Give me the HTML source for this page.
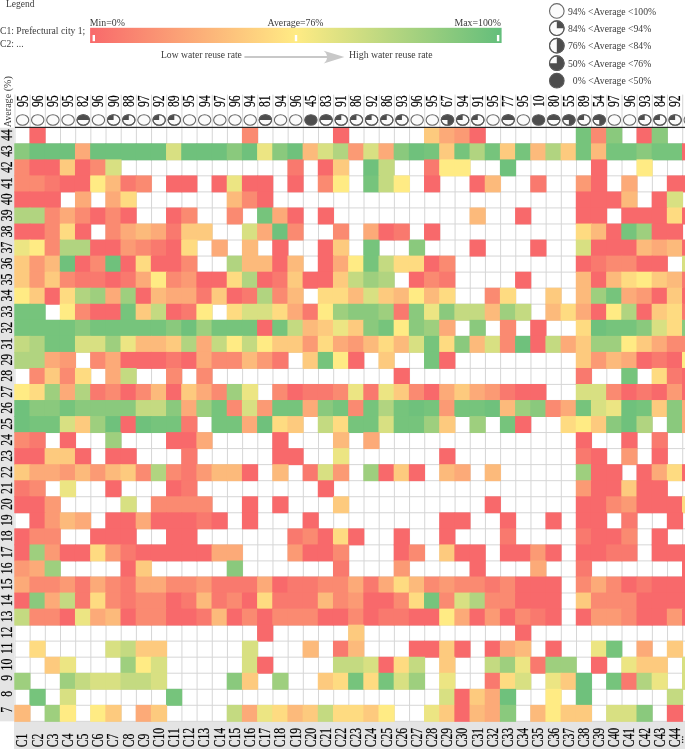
<!DOCTYPE html><html><head><meta charset="utf-8"><style>html,body{margin:0;padding:0;background:#fff;width:685px;height:749px;overflow:hidden}svg{display:block}text{font-family:"Liberation Serif",serif}</style></head><body>
<svg style="will-change:transform" width="685" height="749" viewBox="0 0 685 749">
<defs><linearGradient id="lg" x1="0" x2="1" y1="0" y2="0"><stop offset="0" stop-color="#f8696b"/><stop offset="0.5" stop-color="#ffeb84"/><stop offset="1" stop-color="#63be7b"/></linearGradient></defs>
<g font-size="9.6" fill="#3c3c3c">
<text x="6.0" y="7.0" font-size="9.5">Legend</text>
<text x="0" y="34.4" font-size="9.65">C1: Prefectural city 1;</text>
<text x="0" y="46.7" font-size="9.65">C2: ...</text>
<text x="89.8" y="25.9" font-size="9.85">Min=0%</text>
<text x="267.6" y="25.9" font-size="9.8">Average=76%</text>
<text x="454.4" y="25.9" font-size="9.85">Max=100%</text>
<text x="161.0" y="57.7" font-size="9.62">Low water reuse rate</text>
<text x="349.0" y="57.7" font-size="9.75">High water reuse rate</text>
</g>
<rect x="90.1" y="27.8" width="411.5" height="15.2" fill="url(#lg)"/>
<rect x="92.6" y="35" width="2.4" height="6.2" fill="#fff"/>
<rect x="294.8" y="35" width="2.4" height="6.2" fill="#fff"/>
<rect x="496.9" y="35" width="2.4" height="6.2" fill="#fff"/>
<path d="M244.4,57.0 L330,57.0" stroke="#c8c8c8" stroke-width="1.9"/>
<path d="M344.4,57.1 L323.7,50.7 Q327.2,53.5 327,57.1 Q327.2,60.7 323.7,63.5 Z" fill="#c8c8c8"/>
<g transform="translate(556.8,10.95) rotate(0) "><ellipse cx="0" cy="0" rx="7.3" ry="7.3" fill="#fbfbfb" stroke="#6a6a6a" stroke-width="1.1"/></g>
<text x="567.9" y="14.55" font-size="9.7" fill="#3c3c3c">94% &lt;Average &lt;100%</text>
<g transform="translate(556.8,28.2) rotate(0) "><ellipse cx="0" cy="0" rx="7.3" ry="7.3" fill="#fbfbfb" stroke="#6a6a6a" stroke-width="1.1"/><path d="M0,0 L0,-7.3 A7.3,7.3 0 0 1 7.3,0 Z" fill="#4d4d4d"/><ellipse cx="0" cy="0" rx="7.3" ry="7.3" fill="none" stroke="#5a5a5a" stroke-width="1.1"/></g>
<text x="567.9" y="31.8" font-size="9.7" fill="#3c3c3c">84% &lt;Average &lt;94%</text>
<g transform="translate(556.8,45.7) rotate(0) "><ellipse cx="0" cy="0" rx="7.3" ry="7.3" fill="#fbfbfb" stroke="#6a6a6a" stroke-width="1.1"/><path d="M0,-7.3 A7.3,7.3 0 0 1 0,7.3 Z" fill="#4d4d4d"/><ellipse cx="0" cy="0" rx="7.3" ry="7.3" fill="none" stroke="#5a5a5a" stroke-width="1.1"/></g>
<text x="567.9" y="49.3" font-size="9.7" fill="#3c3c3c">76% &lt;Average &lt;84%</text>
<g transform="translate(556.8,63.2) rotate(0) "><ellipse cx="0" cy="0" rx="7.3" ry="7.3" fill="#fbfbfb" stroke="#6a6a6a" stroke-width="1.1"/><path d="M0,0 L0,-7.3 A7.3,7.3 0 1 1 -7.3,0 Z" fill="#4d4d4d"/><ellipse cx="0" cy="0" rx="7.3" ry="7.3" fill="none" stroke="#5a5a5a" stroke-width="1.1"/></g>
<text x="567.9" y="66.8" font-size="9.7" fill="#3c3c3c">50% &lt;Average &lt;76%</text>
<g transform="translate(556.8,80.7) rotate(0) "><ellipse cx="0" cy="0" rx="7.3" ry="7.3" fill="#4d4d4d" stroke="#5a5a5a" stroke-width="1.1"/></g>
<text x="572.8" y="84.3" font-size="9.7" fill="#3c3c3c">0% &lt;Average &lt;50%</text>
<rect x="14.47" y="94.6" width="1" height="33.1" fill="#d6d6d6"/>
<rect x="29.65" y="94.6" width="1" height="33.1" fill="#d6d6d6"/>
<rect x="44.82" y="94.6" width="1" height="33.1" fill="#d6d6d6"/>
<rect x="60" y="94.6" width="1" height="33.1" fill="#d6d6d6"/>
<rect x="75.17" y="94.6" width="1" height="33.1" fill="#d6d6d6"/>
<rect x="90.35" y="94.6" width="1" height="33.1" fill="#d6d6d6"/>
<rect x="105.53" y="94.6" width="1" height="33.1" fill="#d6d6d6"/>
<rect x="120.7" y="94.6" width="1" height="33.1" fill="#d6d6d6"/>
<rect x="135.88" y="94.6" width="1" height="33.1" fill="#d6d6d6"/>
<rect x="151.05" y="94.6" width="1" height="33.1" fill="#d6d6d6"/>
<rect x="166.23" y="94.6" width="1" height="33.1" fill="#d6d6d6"/>
<rect x="181.41" y="94.6" width="1" height="33.1" fill="#d6d6d6"/>
<rect x="196.58" y="94.6" width="1" height="33.1" fill="#d6d6d6"/>
<rect x="211.76" y="94.6" width="1" height="33.1" fill="#d6d6d6"/>
<rect x="226.93" y="94.6" width="1" height="33.1" fill="#d6d6d6"/>
<rect x="242.11" y="94.6" width="1" height="33.1" fill="#d6d6d6"/>
<rect x="257.29" y="94.6" width="1" height="33.1" fill="#d6d6d6"/>
<rect x="272.46" y="94.6" width="1" height="33.1" fill="#d6d6d6"/>
<rect x="287.64" y="94.6" width="1" height="33.1" fill="#d6d6d6"/>
<rect x="302.81" y="94.6" width="1" height="33.1" fill="#d6d6d6"/>
<rect x="317.99" y="94.6" width="1" height="33.1" fill="#d6d6d6"/>
<rect x="333.17" y="94.6" width="1" height="33.1" fill="#d6d6d6"/>
<rect x="348.34" y="94.6" width="1" height="33.1" fill="#d6d6d6"/>
<rect x="363.52" y="94.6" width="1" height="33.1" fill="#d6d6d6"/>
<rect x="378.69" y="94.6" width="1" height="33.1" fill="#d6d6d6"/>
<rect x="393.87" y="94.6" width="1" height="33.1" fill="#d6d6d6"/>
<rect x="409.05" y="94.6" width="1" height="33.1" fill="#d6d6d6"/>
<rect x="424.22" y="94.6" width="1" height="33.1" fill="#d6d6d6"/>
<rect x="439.4" y="94.6" width="1" height="33.1" fill="#d6d6d6"/>
<rect x="454.57" y="94.6" width="1" height="33.1" fill="#d6d6d6"/>
<rect x="469.75" y="94.6" width="1" height="33.1" fill="#d6d6d6"/>
<rect x="484.93" y="94.6" width="1" height="33.1" fill="#d6d6d6"/>
<rect x="500.1" y="94.6" width="1" height="33.1" fill="#d6d6d6"/>
<rect x="515.28" y="94.6" width="1" height="33.1" fill="#d6d6d6"/>
<rect x="530.45" y="94.6" width="1" height="33.1" fill="#d6d6d6"/>
<rect x="545.63" y="94.6" width="1" height="33.1" fill="#d6d6d6"/>
<rect x="560.81" y="94.6" width="1" height="33.1" fill="#d6d6d6"/>
<rect x="575.98" y="94.6" width="1" height="33.1" fill="#d6d6d6"/>
<rect x="591.16" y="94.6" width="1" height="33.1" fill="#d6d6d6"/>
<rect x="606.33" y="94.6" width="1" height="33.1" fill="#d6d6d6"/>
<rect x="621.51" y="94.6" width="1" height="33.1" fill="#d6d6d6"/>
<rect x="636.69" y="94.6" width="1" height="33.1" fill="#d6d6d6"/>
<rect x="651.86" y="94.6" width="1" height="33.1" fill="#d6d6d6"/>
<rect x="667.04" y="94.6" width="1" height="33.1" fill="#d6d6d6"/>
<rect x="682.21" y="94.6" width="1" height="33.1" fill="#d6d6d6"/>
<rect x="697.39" y="94.6" width="1" height="33.1" fill="#d6d6d6"/>
<text transform="translate(10.8,127.3) rotate(-90)" font-size="10.1" fill="#3c3c3c">Average (%)</text>
<text transform="translate(27.56,101.2) rotate(-90) scale(0.73,1)" font-size="16" text-anchor="middle" fill="#000" stroke="#000" stroke-width="0.2">95</text>
<g transform="translate(22.56,120) rotate(-90) "><ellipse cx="0" cy="0" rx="5.3" ry="6.2" fill="#fbfbfb" stroke="#6a6a6a" stroke-width="1.1"/></g>
<text transform="translate(42.73,101.2) rotate(-90) scale(0.73,1)" font-size="16" text-anchor="middle" fill="#000" stroke="#000" stroke-width="0.2">96</text>
<g transform="translate(37.73,120) rotate(-90) "><ellipse cx="0" cy="0" rx="5.3" ry="6.2" fill="#fbfbfb" stroke="#6a6a6a" stroke-width="1.1"/></g>
<text transform="translate(57.91,101.2) rotate(-90) scale(0.73,1)" font-size="16" text-anchor="middle" fill="#000" stroke="#000" stroke-width="0.2">95</text>
<g transform="translate(52.91,120) rotate(-90) "><ellipse cx="0" cy="0" rx="5.3" ry="6.2" fill="#fbfbfb" stroke="#6a6a6a" stroke-width="1.1"/></g>
<text transform="translate(73.09,101.2) rotate(-90) scale(0.73,1)" font-size="16" text-anchor="middle" fill="#000" stroke="#000" stroke-width="0.2">95</text>
<g transform="translate(68.09,120) rotate(-90) "><ellipse cx="0" cy="0" rx="5.3" ry="6.2" fill="#fbfbfb" stroke="#6a6a6a" stroke-width="1.1"/></g>
<text transform="translate(88.26,101.2) rotate(-90) scale(0.73,1)" font-size="16" text-anchor="middle" fill="#000" stroke="#000" stroke-width="0.2">82</text>
<g transform="translate(83.26,120) rotate(-90) "><ellipse cx="0" cy="0" rx="5.3" ry="6.2" fill="#fbfbfb" stroke="#6a6a6a" stroke-width="1.1"/><path d="M0,-6.2 A5.3,6.2 0 0 1 0,6.2 Z" fill="#4d4d4d"/><ellipse cx="0" cy="0" rx="5.3" ry="6.2" fill="none" stroke="#5a5a5a" stroke-width="1.1"/></g>
<text transform="translate(103.44,101.2) rotate(-90) scale(0.73,1)" font-size="16" text-anchor="middle" fill="#000" stroke="#000" stroke-width="0.2">96</text>
<g transform="translate(98.44,120) rotate(-90) "><ellipse cx="0" cy="0" rx="5.3" ry="6.2" fill="#fbfbfb" stroke="#6a6a6a" stroke-width="1.1"/></g>
<text transform="translate(118.61,101.2) rotate(-90) scale(0.73,1)" font-size="16" text-anchor="middle" fill="#000" stroke="#000" stroke-width="0.2">90</text>
<g transform="translate(113.61,120) rotate(-90) "><ellipse cx="0" cy="0" rx="5.3" ry="6.2" fill="#fbfbfb" stroke="#6a6a6a" stroke-width="1.1"/><path d="M0,0 L0,-6.2 A5.3,6.2 0 0 1 5.3,0 Z" fill="#4d4d4d"/><ellipse cx="0" cy="0" rx="5.3" ry="6.2" fill="none" stroke="#5a5a5a" stroke-width="1.1"/></g>
<text transform="translate(133.79,101.2) rotate(-90) scale(0.73,1)" font-size="16" text-anchor="middle" fill="#000" stroke="#000" stroke-width="0.2">88</text>
<g transform="translate(128.79,120) rotate(-90) "><ellipse cx="0" cy="0" rx="5.3" ry="6.2" fill="#fbfbfb" stroke="#6a6a6a" stroke-width="1.1"/><path d="M0,0 L0,-6.2 A5.3,6.2 0 0 1 5.3,0 Z" fill="#4d4d4d"/><ellipse cx="0" cy="0" rx="5.3" ry="6.2" fill="none" stroke="#5a5a5a" stroke-width="1.1"/></g>
<text transform="translate(148.97,101.2) rotate(-90) scale(0.73,1)" font-size="16" text-anchor="middle" fill="#000" stroke="#000" stroke-width="0.2">97</text>
<g transform="translate(143.97,120) rotate(-90) "><ellipse cx="0" cy="0" rx="5.3" ry="6.2" fill="#fbfbfb" stroke="#6a6a6a" stroke-width="1.1"/></g>
<text transform="translate(164.14,101.2) rotate(-90) scale(0.73,1)" font-size="16" text-anchor="middle" fill="#000" stroke="#000" stroke-width="0.2">92</text>
<g transform="translate(159.14,120) rotate(-90) "><ellipse cx="0" cy="0" rx="5.3" ry="6.2" fill="#fbfbfb" stroke="#6a6a6a" stroke-width="1.1"/><path d="M0,0 L0,-6.2 A5.3,6.2 0 0 1 5.3,0 Z" fill="#4d4d4d"/><ellipse cx="0" cy="0" rx="5.3" ry="6.2" fill="none" stroke="#5a5a5a" stroke-width="1.1"/></g>
<text transform="translate(179.32,101.2) rotate(-90) scale(0.73,1)" font-size="16" text-anchor="middle" fill="#000" stroke="#000" stroke-width="0.2">89</text>
<g transform="translate(174.32,120) rotate(-90) "><ellipse cx="0" cy="0" rx="5.3" ry="6.2" fill="#fbfbfb" stroke="#6a6a6a" stroke-width="1.1"/><path d="M0,0 L0,-6.2 A5.3,6.2 0 0 1 5.3,0 Z" fill="#4d4d4d"/><ellipse cx="0" cy="0" rx="5.3" ry="6.2" fill="none" stroke="#5a5a5a" stroke-width="1.1"/></g>
<text transform="translate(194.49,101.2) rotate(-90) scale(0.73,1)" font-size="16" text-anchor="middle" fill="#000" stroke="#000" stroke-width="0.2">95</text>
<g transform="translate(189.49,120) rotate(-90) "><ellipse cx="0" cy="0" rx="5.3" ry="6.2" fill="#fbfbfb" stroke="#6a6a6a" stroke-width="1.1"/></g>
<text transform="translate(209.67,101.2) rotate(-90) scale(0.73,1)" font-size="16" text-anchor="middle" fill="#000" stroke="#000" stroke-width="0.2">94</text>
<g transform="translate(204.67,120) rotate(-90) "><ellipse cx="0" cy="0" rx="5.3" ry="6.2" fill="#fbfbfb" stroke="#6a6a6a" stroke-width="1.1"/></g>
<text transform="translate(224.85,101.2) rotate(-90) scale(0.73,1)" font-size="16" text-anchor="middle" fill="#000" stroke="#000" stroke-width="0.2">97</text>
<g transform="translate(219.85,120) rotate(-90) "><ellipse cx="0" cy="0" rx="5.3" ry="6.2" fill="#fbfbfb" stroke="#6a6a6a" stroke-width="1.1"/></g>
<text transform="translate(240.02,101.2) rotate(-90) scale(0.73,1)" font-size="16" text-anchor="middle" fill="#000" stroke="#000" stroke-width="0.2">96</text>
<g transform="translate(235.02,120) rotate(-90) "><ellipse cx="0" cy="0" rx="5.3" ry="6.2" fill="#fbfbfb" stroke="#6a6a6a" stroke-width="1.1"/></g>
<text transform="translate(255.2,101.2) rotate(-90) scale(0.73,1)" font-size="16" text-anchor="middle" fill="#000" stroke="#000" stroke-width="0.2">94</text>
<g transform="translate(250.2,120) rotate(-90) "><ellipse cx="0" cy="0" rx="5.3" ry="6.2" fill="#fbfbfb" stroke="#6a6a6a" stroke-width="1.1"/></g>
<text transform="translate(270.37,101.2) rotate(-90) scale(0.73,1)" font-size="16" text-anchor="middle" fill="#000" stroke="#000" stroke-width="0.2">81</text>
<g transform="translate(265.37,120) rotate(-90) "><ellipse cx="0" cy="0" rx="5.3" ry="6.2" fill="#fbfbfb" stroke="#6a6a6a" stroke-width="1.1"/><path d="M0,-6.2 A5.3,6.2 0 0 1 0,6.2 Z" fill="#4d4d4d"/><ellipse cx="0" cy="0" rx="5.3" ry="6.2" fill="none" stroke="#5a5a5a" stroke-width="1.1"/></g>
<text transform="translate(285.55,101.2) rotate(-90) scale(0.73,1)" font-size="16" text-anchor="middle" fill="#000" stroke="#000" stroke-width="0.2">94</text>
<g transform="translate(280.55,120) rotate(-90) "><ellipse cx="0" cy="0" rx="5.3" ry="6.2" fill="#fbfbfb" stroke="#6a6a6a" stroke-width="1.1"/></g>
<text transform="translate(300.73,101.2) rotate(-90) scale(0.73,1)" font-size="16" text-anchor="middle" fill="#000" stroke="#000" stroke-width="0.2">96</text>
<g transform="translate(295.73,120) rotate(-90) "><ellipse cx="0" cy="0" rx="5.3" ry="6.2" fill="#fbfbfb" stroke="#6a6a6a" stroke-width="1.1"/></g>
<text transform="translate(315.9,101.2) rotate(-90) scale(0.73,1)" font-size="16" text-anchor="middle" fill="#000" stroke="#000" stroke-width="0.2">45</text>
<g transform="translate(310.9,120) rotate(-90) "><ellipse cx="0" cy="0" rx="5.3" ry="6.2" fill="#4d4d4d" stroke="#5a5a5a" stroke-width="1.1"/></g>
<text transform="translate(331.08,101.2) rotate(-90) scale(0.73,1)" font-size="16" text-anchor="middle" fill="#000" stroke="#000" stroke-width="0.2">83</text>
<g transform="translate(326.08,120) rotate(-90) "><ellipse cx="0" cy="0" rx="5.3" ry="6.2" fill="#fbfbfb" stroke="#6a6a6a" stroke-width="1.1"/><path d="M0,-6.2 A5.3,6.2 0 0 1 0,6.2 Z" fill="#4d4d4d"/><ellipse cx="0" cy="0" rx="5.3" ry="6.2" fill="none" stroke="#5a5a5a" stroke-width="1.1"/></g>
<text transform="translate(346.25,101.2) rotate(-90) scale(0.73,1)" font-size="16" text-anchor="middle" fill="#000" stroke="#000" stroke-width="0.2">91</text>
<g transform="translate(341.25,120) rotate(-90) "><ellipse cx="0" cy="0" rx="5.3" ry="6.2" fill="#fbfbfb" stroke="#6a6a6a" stroke-width="1.1"/><path d="M0,0 L0,-6.2 A5.3,6.2 0 0 1 5.3,0 Z" fill="#4d4d4d"/><ellipse cx="0" cy="0" rx="5.3" ry="6.2" fill="none" stroke="#5a5a5a" stroke-width="1.1"/></g>
<text transform="translate(361.43,101.2) rotate(-90) scale(0.73,1)" font-size="16" text-anchor="middle" fill="#000" stroke="#000" stroke-width="0.2">86</text>
<g transform="translate(356.43,120) rotate(-90) "><ellipse cx="0" cy="0" rx="5.3" ry="6.2" fill="#fbfbfb" stroke="#6a6a6a" stroke-width="1.1"/><path d="M0,0 L0,-6.2 A5.3,6.2 0 0 1 5.3,0 Z" fill="#4d4d4d"/><ellipse cx="0" cy="0" rx="5.3" ry="6.2" fill="none" stroke="#5a5a5a" stroke-width="1.1"/></g>
<text transform="translate(376.61,101.2) rotate(-90) scale(0.73,1)" font-size="16" text-anchor="middle" fill="#000" stroke="#000" stroke-width="0.2">92</text>
<g transform="translate(371.61,120) rotate(-90) "><ellipse cx="0" cy="0" rx="5.3" ry="6.2" fill="#fbfbfb" stroke="#6a6a6a" stroke-width="1.1"/><path d="M0,0 L0,-6.2 A5.3,6.2 0 0 1 5.3,0 Z" fill="#4d4d4d"/><ellipse cx="0" cy="0" rx="5.3" ry="6.2" fill="none" stroke="#5a5a5a" stroke-width="1.1"/></g>
<text transform="translate(391.78,101.2) rotate(-90) scale(0.73,1)" font-size="16" text-anchor="middle" fill="#000" stroke="#000" stroke-width="0.2">86</text>
<g transform="translate(386.78,120) rotate(-90) "><ellipse cx="0" cy="0" rx="5.3" ry="6.2" fill="#fbfbfb" stroke="#6a6a6a" stroke-width="1.1"/><path d="M0,0 L0,-6.2 A5.3,6.2 0 0 1 5.3,0 Z" fill="#4d4d4d"/><ellipse cx="0" cy="0" rx="5.3" ry="6.2" fill="none" stroke="#5a5a5a" stroke-width="1.1"/></g>
<text transform="translate(406.96,101.2) rotate(-90) scale(0.73,1)" font-size="16" text-anchor="middle" fill="#000" stroke="#000" stroke-width="0.2">93</text>
<g transform="translate(401.96,120) rotate(-90) "><ellipse cx="0" cy="0" rx="5.3" ry="6.2" fill="#fbfbfb" stroke="#6a6a6a" stroke-width="1.1"/><path d="M0,0 L0,-6.2 A5.3,6.2 0 0 1 5.3,0 Z" fill="#4d4d4d"/><ellipse cx="0" cy="0" rx="5.3" ry="6.2" fill="none" stroke="#5a5a5a" stroke-width="1.1"/></g>
<text transform="translate(422.13,101.2) rotate(-90) scale(0.73,1)" font-size="16" text-anchor="middle" fill="#000" stroke="#000" stroke-width="0.2">96</text>
<g transform="translate(417.13,120) rotate(-90) "><ellipse cx="0" cy="0" rx="5.3" ry="6.2" fill="#fbfbfb" stroke="#6a6a6a" stroke-width="1.1"/></g>
<text transform="translate(437.31,101.2) rotate(-90) scale(0.73,1)" font-size="16" text-anchor="middle" fill="#000" stroke="#000" stroke-width="0.2">95</text>
<g transform="translate(432.31,120) rotate(-90) "><ellipse cx="0" cy="0" rx="5.3" ry="6.2" fill="#fbfbfb" stroke="#6a6a6a" stroke-width="1.1"/></g>
<text transform="translate(452.49,101.2) rotate(-90) scale(0.73,1)" font-size="16" text-anchor="middle" fill="#000" stroke="#000" stroke-width="0.2">67</text>
<g transform="translate(447.49,120) rotate(-90) "><ellipse cx="0" cy="0" rx="5.3" ry="6.2" fill="#fbfbfb" stroke="#6a6a6a" stroke-width="1.1"/><path d="M0,0 L0,-6.2 A5.3,6.2 0 1 1 -5.3,0 Z" fill="#4d4d4d"/><ellipse cx="0" cy="0" rx="5.3" ry="6.2" fill="none" stroke="#5a5a5a" stroke-width="1.1"/></g>
<text transform="translate(467.66,101.2) rotate(-90) scale(0.73,1)" font-size="16" text-anchor="middle" fill="#000" stroke="#000" stroke-width="0.2">94</text>
<g transform="translate(462.66,120) rotate(-90) "><ellipse cx="0" cy="0" rx="5.3" ry="6.2" fill="#fbfbfb" stroke="#6a6a6a" stroke-width="1.1"/><path d="M0,0 L0,-6.2 A5.3,6.2 0 0 1 5.3,0 Z" fill="#4d4d4d"/><ellipse cx="0" cy="0" rx="5.3" ry="6.2" fill="none" stroke="#5a5a5a" stroke-width="1.1"/></g>
<text transform="translate(482.84,101.2) rotate(-90) scale(0.73,1)" font-size="16" text-anchor="middle" fill="#000" stroke="#000" stroke-width="0.2">91</text>
<g transform="translate(477.84,120) rotate(-90) "><ellipse cx="0" cy="0" rx="5.3" ry="6.2" fill="#fbfbfb" stroke="#6a6a6a" stroke-width="1.1"/><path d="M0,0 L0,-6.2 A5.3,6.2 0 0 1 5.3,0 Z" fill="#4d4d4d"/><ellipse cx="0" cy="0" rx="5.3" ry="6.2" fill="none" stroke="#5a5a5a" stroke-width="1.1"/></g>
<text transform="translate(498.01,101.2) rotate(-90) scale(0.73,1)" font-size="16" text-anchor="middle" fill="#000" stroke="#000" stroke-width="0.2">95</text>
<g transform="translate(493.01,120) rotate(-90) "><ellipse cx="0" cy="0" rx="5.3" ry="6.2" fill="#fbfbfb" stroke="#6a6a6a" stroke-width="1.1"/></g>
<text transform="translate(513.19,101.2) rotate(-90) scale(0.73,1)" font-size="16" text-anchor="middle" fill="#000" stroke="#000" stroke-width="0.2">77</text>
<g transform="translate(508.19,120) rotate(-90) "><ellipse cx="0" cy="0" rx="5.3" ry="6.2" fill="#fbfbfb" stroke="#6a6a6a" stroke-width="1.1"/><path d="M0,-6.2 A5.3,6.2 0 0 1 0,6.2 Z" fill="#4d4d4d"/><ellipse cx="0" cy="0" rx="5.3" ry="6.2" fill="none" stroke="#5a5a5a" stroke-width="1.1"/></g>
<text transform="translate(528.37,101.2) rotate(-90) scale(0.73,1)" font-size="16" text-anchor="middle" fill="#000" stroke="#000" stroke-width="0.2">95</text>
<g transform="translate(523.37,120) rotate(-90) "><ellipse cx="0" cy="0" rx="5.3" ry="6.2" fill="#fbfbfb" stroke="#6a6a6a" stroke-width="1.1"/></g>
<text transform="translate(543.54,101.2) rotate(-90) scale(0.73,1)" font-size="16" text-anchor="middle" fill="#000" stroke="#000" stroke-width="0.2">10</text>
<g transform="translate(538.54,120) rotate(-90) "><ellipse cx="0" cy="0" rx="5.3" ry="6.2" fill="#4d4d4d" stroke="#5a5a5a" stroke-width="1.1"/></g>
<text transform="translate(558.72,101.2) rotate(-90) scale(0.73,1)" font-size="16" text-anchor="middle" fill="#000" stroke="#000" stroke-width="0.2">80</text>
<g transform="translate(553.72,120) rotate(-90) "><ellipse cx="0" cy="0" rx="5.3" ry="6.2" fill="#fbfbfb" stroke="#6a6a6a" stroke-width="1.1"/><path d="M0,-6.2 A5.3,6.2 0 0 1 0,6.2 Z" fill="#4d4d4d"/><ellipse cx="0" cy="0" rx="5.3" ry="6.2" fill="none" stroke="#5a5a5a" stroke-width="1.1"/></g>
<text transform="translate(573.89,101.2) rotate(-90) scale(0.73,1)" font-size="16" text-anchor="middle" fill="#000" stroke="#000" stroke-width="0.2">55</text>
<g transform="translate(568.89,120) rotate(-90) "><ellipse cx="0" cy="0" rx="5.3" ry="6.2" fill="#fbfbfb" stroke="#6a6a6a" stroke-width="1.1"/><path d="M0,0 L0,-6.2 A5.3,6.2 0 1 1 -5.3,0 Z" fill="#4d4d4d"/><ellipse cx="0" cy="0" rx="5.3" ry="6.2" fill="none" stroke="#5a5a5a" stroke-width="1.1"/></g>
<text transform="translate(589.07,101.2) rotate(-90) scale(0.73,1)" font-size="16" text-anchor="middle" fill="#000" stroke="#000" stroke-width="0.2">89</text>
<g transform="translate(584.07,120) rotate(-90) "><ellipse cx="0" cy="0" rx="5.3" ry="6.2" fill="#fbfbfb" stroke="#6a6a6a" stroke-width="1.1"/><path d="M0,0 L0,-6.2 A5.3,6.2 0 0 1 5.3,0 Z" fill="#4d4d4d"/><ellipse cx="0" cy="0" rx="5.3" ry="6.2" fill="none" stroke="#5a5a5a" stroke-width="1.1"/></g>
<text transform="translate(604.25,101.2) rotate(-90) scale(0.73,1)" font-size="16" text-anchor="middle" fill="#000" stroke="#000" stroke-width="0.2">54</text>
<g transform="translate(599.25,120) rotate(-90) "><ellipse cx="0" cy="0" rx="5.3" ry="6.2" fill="#fbfbfb" stroke="#6a6a6a" stroke-width="1.1"/><path d="M0,0 L0,-6.2 A5.3,6.2 0 1 1 -5.3,0 Z" fill="#4d4d4d"/><ellipse cx="0" cy="0" rx="5.3" ry="6.2" fill="none" stroke="#5a5a5a" stroke-width="1.1"/></g>
<text transform="translate(619.42,101.2) rotate(-90) scale(0.73,1)" font-size="16" text-anchor="middle" fill="#000" stroke="#000" stroke-width="0.2">97</text>
<g transform="translate(614.42,120) rotate(-90) "><ellipse cx="0" cy="0" rx="5.3" ry="6.2" fill="#fbfbfb" stroke="#6a6a6a" stroke-width="1.1"/></g>
<text transform="translate(634.6,101.2) rotate(-90) scale(0.73,1)" font-size="16" text-anchor="middle" fill="#000" stroke="#000" stroke-width="0.2">96</text>
<g transform="translate(629.6,120) rotate(-90) "><ellipse cx="0" cy="0" rx="5.3" ry="6.2" fill="#fbfbfb" stroke="#6a6a6a" stroke-width="1.1"/></g>
<text transform="translate(649.77,101.2) rotate(-90) scale(0.73,1)" font-size="16" text-anchor="middle" fill="#000" stroke="#000" stroke-width="0.2">93</text>
<g transform="translate(644.77,120) rotate(-90) "><ellipse cx="0" cy="0" rx="5.3" ry="6.2" fill="#fbfbfb" stroke="#6a6a6a" stroke-width="1.1"/><path d="M0,0 L0,-6.2 A5.3,6.2 0 0 1 5.3,0 Z" fill="#4d4d4d"/><ellipse cx="0" cy="0" rx="5.3" ry="6.2" fill="none" stroke="#5a5a5a" stroke-width="1.1"/></g>
<text transform="translate(664.95,101.2) rotate(-90) scale(0.73,1)" font-size="16" text-anchor="middle" fill="#000" stroke="#000" stroke-width="0.2">84</text>
<g transform="translate(659.95,120) rotate(-90) "><ellipse cx="0" cy="0" rx="5.3" ry="6.2" fill="#fbfbfb" stroke="#6a6a6a" stroke-width="1.1"/><path d="M0,0 L0,-6.2 A5.3,6.2 0 0 1 5.3,0 Z" fill="#4d4d4d"/><ellipse cx="0" cy="0" rx="5.3" ry="6.2" fill="none" stroke="#5a5a5a" stroke-width="1.1"/></g>
<text transform="translate(680.13,101.2) rotate(-90) scale(0.73,1)" font-size="16" text-anchor="middle" fill="#000" stroke="#000" stroke-width="0.2">92</text>
<g transform="translate(675.13,120) rotate(-90) "><ellipse cx="0" cy="0" rx="5.3" ry="6.2" fill="#fbfbfb" stroke="#6a6a6a" stroke-width="1.1"/><path d="M0,0 L0,-6.2 A5.3,6.2 0 0 1 5.3,0 Z" fill="#4d4d4d"/><ellipse cx="0" cy="0" rx="5.3" ry="6.2" fill="none" stroke="#5a5a5a" stroke-width="1.1"/></g>
<g transform="translate(690.3,120) rotate(-90) "><ellipse cx="0" cy="0" rx="5.3" ry="6.2" fill="#fbfbfb" stroke="#6a6a6a" stroke-width="1.1"/></g>
<rect x="0" y="127.7" width="14" height="593.63" fill="#e4e4e4"/>
<rect x="14" y="721.33" width="671" height="27.67" fill="#e4e4e4"/>
<rect x="14.47" y="127.7" width="1" height="593.63" fill="#d6d6d6"/>
<rect x="29.65" y="127.7" width="1" height="593.63" fill="#d6d6d6"/>
<rect x="44.82" y="127.7" width="1" height="593.63" fill="#d6d6d6"/>
<rect x="60" y="127.7" width="1" height="593.63" fill="#d6d6d6"/>
<rect x="75.17" y="127.7" width="1" height="593.63" fill="#d6d6d6"/>
<rect x="90.35" y="127.7" width="1" height="593.63" fill="#d6d6d6"/>
<rect x="105.53" y="127.7" width="1" height="593.63" fill="#d6d6d6"/>
<rect x="120.7" y="127.7" width="1" height="593.63" fill="#d6d6d6"/>
<rect x="135.88" y="127.7" width="1" height="593.63" fill="#d6d6d6"/>
<rect x="151.05" y="127.7" width="1" height="593.63" fill="#d6d6d6"/>
<rect x="166.23" y="127.7" width="1" height="593.63" fill="#d6d6d6"/>
<rect x="181.41" y="127.7" width="1" height="593.63" fill="#d6d6d6"/>
<rect x="196.58" y="127.7" width="1" height="593.63" fill="#d6d6d6"/>
<rect x="211.76" y="127.7" width="1" height="593.63" fill="#d6d6d6"/>
<rect x="226.93" y="127.7" width="1" height="593.63" fill="#d6d6d6"/>
<rect x="242.11" y="127.7" width="1" height="593.63" fill="#d6d6d6"/>
<rect x="257.29" y="127.7" width="1" height="593.63" fill="#d6d6d6"/>
<rect x="272.46" y="127.7" width="1" height="593.63" fill="#d6d6d6"/>
<rect x="287.64" y="127.7" width="1" height="593.63" fill="#d6d6d6"/>
<rect x="302.81" y="127.7" width="1" height="593.63" fill="#d6d6d6"/>
<rect x="317.99" y="127.7" width="1" height="593.63" fill="#d6d6d6"/>
<rect x="333.17" y="127.7" width="1" height="593.63" fill="#d6d6d6"/>
<rect x="348.34" y="127.7" width="1" height="593.63" fill="#d6d6d6"/>
<rect x="363.52" y="127.7" width="1" height="593.63" fill="#d6d6d6"/>
<rect x="378.69" y="127.7" width="1" height="593.63" fill="#d6d6d6"/>
<rect x="393.87" y="127.7" width="1" height="593.63" fill="#d6d6d6"/>
<rect x="409.05" y="127.7" width="1" height="593.63" fill="#d6d6d6"/>
<rect x="424.22" y="127.7" width="1" height="593.63" fill="#d6d6d6"/>
<rect x="439.4" y="127.7" width="1" height="593.63" fill="#d6d6d6"/>
<rect x="454.57" y="127.7" width="1" height="593.63" fill="#d6d6d6"/>
<rect x="469.75" y="127.7" width="1" height="593.63" fill="#d6d6d6"/>
<rect x="484.93" y="127.7" width="1" height="593.63" fill="#d6d6d6"/>
<rect x="500.1" y="127.7" width="1" height="593.63" fill="#d6d6d6"/>
<rect x="515.28" y="127.7" width="1" height="593.63" fill="#d6d6d6"/>
<rect x="530.45" y="127.7" width="1" height="593.63" fill="#d6d6d6"/>
<rect x="545.63" y="127.7" width="1" height="593.63" fill="#d6d6d6"/>
<rect x="560.81" y="127.7" width="1" height="593.63" fill="#d6d6d6"/>
<rect x="575.98" y="127.7" width="1" height="593.63" fill="#d6d6d6"/>
<rect x="591.16" y="127.7" width="1" height="593.63" fill="#d6d6d6"/>
<rect x="606.33" y="127.7" width="1" height="593.63" fill="#d6d6d6"/>
<rect x="621.51" y="127.7" width="1" height="593.63" fill="#d6d6d6"/>
<rect x="636.69" y="127.7" width="1" height="593.63" fill="#d6d6d6"/>
<rect x="651.86" y="127.7" width="1" height="593.63" fill="#d6d6d6"/>
<rect x="667.04" y="127.7" width="1" height="593.63" fill="#d6d6d6"/>
<rect x="682.21" y="127.7" width="1" height="593.63" fill="#d6d6d6"/>
<rect x="697.39" y="127.7" width="1" height="593.63" fill="#d6d6d6"/>
<rect x="14.97" y="127.2" width="670.03" height="1" fill="#d6d6d6"/>
<rect x="14.97" y="143.24" width="670.03" height="1" fill="#d6d6d6"/>
<rect x="14.97" y="159.29" width="670.03" height="1" fill="#d6d6d6"/>
<rect x="14.97" y="175.33" width="670.03" height="1" fill="#d6d6d6"/>
<rect x="14.97" y="191.38" width="670.03" height="1" fill="#d6d6d6"/>
<rect x="14.97" y="207.42" width="670.03" height="1" fill="#d6d6d6"/>
<rect x="14.97" y="223.46" width="670.03" height="1" fill="#d6d6d6"/>
<rect x="14.97" y="239.51" width="670.03" height="1" fill="#d6d6d6"/>
<rect x="14.97" y="255.55" width="670.03" height="1" fill="#d6d6d6"/>
<rect x="14.97" y="271.6" width="670.03" height="1" fill="#d6d6d6"/>
<rect x="14.97" y="287.64" width="670.03" height="1" fill="#d6d6d6"/>
<rect x="14.97" y="303.68" width="670.03" height="1" fill="#d6d6d6"/>
<rect x="14.97" y="319.73" width="670.03" height="1" fill="#d6d6d6"/>
<rect x="14.97" y="335.77" width="670.03" height="1" fill="#d6d6d6"/>
<rect x="14.97" y="351.82" width="670.03" height="1" fill="#d6d6d6"/>
<rect x="14.97" y="367.86" width="670.03" height="1" fill="#d6d6d6"/>
<rect x="14.97" y="383.9" width="670.03" height="1" fill="#d6d6d6"/>
<rect x="14.97" y="399.95" width="670.03" height="1" fill="#d6d6d6"/>
<rect x="14.97" y="415.99" width="670.03" height="1" fill="#d6d6d6"/>
<rect x="14.97" y="432.04" width="670.03" height="1" fill="#d6d6d6"/>
<rect x="14.97" y="448.08" width="670.03" height="1" fill="#d6d6d6"/>
<rect x="14.97" y="464.12" width="670.03" height="1" fill="#d6d6d6"/>
<rect x="14.97" y="480.17" width="670.03" height="1" fill="#d6d6d6"/>
<rect x="14.97" y="496.21" width="670.03" height="1" fill="#d6d6d6"/>
<rect x="14.97" y="512.26" width="670.03" height="1" fill="#d6d6d6"/>
<rect x="14.97" y="528.3" width="670.03" height="1" fill="#d6d6d6"/>
<rect x="14.97" y="544.34" width="670.03" height="1" fill="#d6d6d6"/>
<rect x="14.97" y="560.39" width="670.03" height="1" fill="#d6d6d6"/>
<rect x="14.97" y="576.43" width="670.03" height="1" fill="#d6d6d6"/>
<rect x="14.97" y="592.48" width="670.03" height="1" fill="#d6d6d6"/>
<rect x="14.97" y="608.52" width="670.03" height="1" fill="#d6d6d6"/>
<rect x="14.97" y="624.56" width="670.03" height="1" fill="#d6d6d6"/>
<rect x="14.97" y="640.61" width="670.03" height="1" fill="#d6d6d6"/>
<rect x="14.97" y="656.65" width="670.03" height="1" fill="#d6d6d6"/>
<rect x="14.97" y="672.7" width="670.03" height="1" fill="#d6d6d6"/>
<rect x="14.97" y="688.74" width="670.03" height="1" fill="#d6d6d6"/>
<rect x="14.97" y="704.78" width="670.03" height="1" fill="#d6d6d6"/>
<rect x="14.97" y="720.83" width="670.03" height="1" fill="#d6d6d6"/>
<rect x="29.45" y="127.3" width="16.18" height="16.94" fill="#f8696b"/>
<rect x="241.91" y="127.3" width="16.18" height="16.94" fill="#fa8a71"/>
<rect x="332.97" y="127.3" width="16.18" height="16.94" fill="#f8696b"/>
<rect x="424.02" y="127.3" width="16.18" height="16.94" fill="#fdca7e"/>
<rect x="439.2" y="127.3" width="16.18" height="16.94" fill="#fcaa78"/>
<rect x="454.37" y="127.3" width="16.18" height="16.94" fill="#fb9a74"/>
<rect x="469.55" y="127.3" width="16.18" height="16.94" fill="#f8696b"/>
<rect x="575.78" y="127.3" width="16.18" height="16.94" fill="#76c47c"/>
<rect x="590.96" y="127.3" width="16.18" height="16.94" fill="#fa8a71"/>
<rect x="606.13" y="127.3" width="16.18" height="16.94" fill="#8ac97d"/>
<rect x="636.49" y="127.3" width="16.18" height="16.94" fill="#f8696b"/>
<rect x="651.66" y="127.3" width="16.18" height="16.94" fill="#8ac97d"/>
<rect x="14.27" y="143.34" width="16.18" height="16.94" fill="#8ac97d"/>
<rect x="29.45" y="143.34" width="16.18" height="16.94" fill="#6fc17c"/>
<rect x="44.62" y="143.34" width="16.18" height="16.94" fill="#6fc17c"/>
<rect x="59.8" y="143.34" width="16.18" height="16.94" fill="#6fc17c"/>
<rect x="74.97" y="143.34" width="16.18" height="16.94" fill="#fcaa78"/>
<rect x="90.15" y="143.34" width="16.18" height="16.94" fill="#6fc17c"/>
<rect x="105.33" y="143.34" width="16.18" height="16.94" fill="#6fc17c"/>
<rect x="120.5" y="143.34" width="16.18" height="16.94" fill="#6fc17c"/>
<rect x="135.68" y="143.34" width="16.18" height="16.94" fill="#6fc17c"/>
<rect x="150.85" y="143.34" width="16.18" height="16.94" fill="#6fc17c"/>
<rect x="166.03" y="143.34" width="16.18" height="16.94" fill="#d8e082"/>
<rect x="181.21" y="143.34" width="16.18" height="16.94" fill="#6fc17c"/>
<rect x="196.38" y="143.34" width="16.18" height="16.94" fill="#6fc17c"/>
<rect x="211.56" y="143.34" width="16.18" height="16.94" fill="#6fc17c"/>
<rect x="226.73" y="143.34" width="16.18" height="16.94" fill="#8ac97d"/>
<rect x="241.91" y="143.34" width="16.18" height="16.94" fill="#6fc17c"/>
<rect x="257.09" y="143.34" width="16.18" height="16.94" fill="#ece583"/>
<rect x="272.26" y="143.34" width="16.18" height="16.94" fill="#8ac97d"/>
<rect x="287.44" y="143.34" width="16.18" height="16.94" fill="#6fc17c"/>
<rect x="302.61" y="143.34" width="16.18" height="16.94" fill="#fcba7b"/>
<rect x="317.79" y="143.34" width="16.18" height="16.94" fill="#d8e082"/>
<rect x="332.97" y="143.34" width="16.18" height="16.94" fill="#b1d480"/>
<rect x="348.14" y="143.34" width="16.18" height="16.94" fill="#fb9a74"/>
<rect x="363.32" y="143.34" width="16.18" height="16.94" fill="#d8e082"/>
<rect x="378.49" y="143.34" width="16.18" height="16.94" fill="#fcaa78"/>
<rect x="393.67" y="143.34" width="16.18" height="16.94" fill="#8ac97d"/>
<rect x="408.85" y="143.34" width="16.18" height="16.94" fill="#6fc17c"/>
<rect x="424.02" y="143.34" width="16.18" height="16.94" fill="#76c47c"/>
<rect x="439.2" y="143.34" width="16.18" height="16.94" fill="#fdca7e"/>
<rect x="454.37" y="143.34" width="16.18" height="16.94" fill="#76c47c"/>
<rect x="469.55" y="143.34" width="16.18" height="16.94" fill="#b1d480"/>
<rect x="484.73" y="143.34" width="16.18" height="16.94" fill="#76c47c"/>
<rect x="499.9" y="143.34" width="16.18" height="16.94" fill="#fdca7e"/>
<rect x="515.08" y="143.34" width="16.18" height="16.94" fill="#76c47c"/>
<rect x="530.25" y="143.34" width="16.18" height="16.94" fill="#fcba7b"/>
<rect x="545.43" y="143.34" width="16.18" height="16.94" fill="#b1d480"/>
<rect x="560.61" y="143.34" width="16.18" height="16.94" fill="#fdca7e"/>
<rect x="575.78" y="143.34" width="16.18" height="16.94" fill="#76c47c"/>
<rect x="590.96" y="143.34" width="16.18" height="16.94" fill="#fcba7b"/>
<rect x="606.13" y="143.34" width="16.18" height="16.94" fill="#76c47c"/>
<rect x="621.31" y="143.34" width="16.18" height="16.94" fill="#76c47c"/>
<rect x="636.49" y="143.34" width="16.18" height="16.94" fill="#8ac97d"/>
<rect x="651.66" y="143.34" width="16.18" height="16.94" fill="#76c47c"/>
<rect x="666.84" y="143.34" width="16.18" height="16.94" fill="#76c47c"/>
<rect x="682.01" y="143.34" width="16.18" height="16.94" fill="#f8696b"/>
<rect x="14.27" y="159.39" width="16.18" height="16.94" fill="#fa8a71"/>
<rect x="29.45" y="159.39" width="16.18" height="16.94" fill="#f8696b"/>
<rect x="44.62" y="159.39" width="16.18" height="16.94" fill="#f8696b"/>
<rect x="59.8" y="159.39" width="16.18" height="16.94" fill="#fdca7e"/>
<rect x="74.97" y="159.39" width="16.18" height="16.94" fill="#f8696b"/>
<rect x="90.15" y="159.39" width="16.18" height="16.94" fill="#fa8a71"/>
<rect x="105.33" y="159.39" width="16.18" height="16.94" fill="#d8e082"/>
<rect x="287.44" y="159.39" width="16.18" height="16.94" fill="#f9796e"/>
<rect x="317.79" y="159.39" width="16.18" height="16.94" fill="#f8696b"/>
<rect x="332.97" y="159.39" width="16.18" height="16.94" fill="#fdca7e"/>
<rect x="363.32" y="159.39" width="16.18" height="16.94" fill="#6fc17c"/>
<rect x="378.49" y="159.39" width="16.18" height="16.94" fill="#c4da81"/>
<rect x="424.02" y="159.39" width="16.18" height="16.94" fill="#f9796e"/>
<rect x="439.2" y="159.39" width="16.18" height="16.94" fill="#ffeb84"/>
<rect x="454.37" y="159.39" width="16.18" height="16.94" fill="#ffeb84"/>
<rect x="499.9" y="159.39" width="16.18" height="16.94" fill="#6fc17c"/>
<rect x="590.96" y="159.39" width="16.18" height="16.94" fill="#f8696b"/>
<rect x="636.49" y="159.39" width="16.18" height="16.94" fill="#ffeb84"/>
<rect x="14.27" y="175.43" width="16.18" height="16.94" fill="#fa8a71"/>
<rect x="29.45" y="175.43" width="16.18" height="16.94" fill="#fa8a71"/>
<rect x="44.62" y="175.43" width="16.18" height="16.94" fill="#f9796e"/>
<rect x="59.8" y="175.43" width="16.18" height="16.94" fill="#f8696b"/>
<rect x="74.97" y="175.43" width="16.18" height="16.94" fill="#f8696b"/>
<rect x="90.15" y="175.43" width="16.18" height="16.94" fill="#ffeb84"/>
<rect x="105.33" y="175.43" width="16.18" height="16.94" fill="#fcba7b"/>
<rect x="120.5" y="175.43" width="16.18" height="16.94" fill="#f9796e"/>
<rect x="135.68" y="175.43" width="16.18" height="16.94" fill="#fa8a71"/>
<rect x="166.03" y="175.43" width="16.18" height="16.94" fill="#f8696b"/>
<rect x="181.21" y="175.43" width="16.18" height="16.94" fill="#f8696b"/>
<rect x="211.56" y="175.43" width="16.18" height="16.94" fill="#f8696b"/>
<rect x="226.73" y="175.43" width="16.18" height="16.94" fill="#ece583"/>
<rect x="241.91" y="175.43" width="16.18" height="16.94" fill="#f8696b"/>
<rect x="257.09" y="175.43" width="16.18" height="16.94" fill="#f8696b"/>
<rect x="287.44" y="175.43" width="16.18" height="16.94" fill="#f8696b"/>
<rect x="317.79" y="175.43" width="16.18" height="16.94" fill="#fa8a71"/>
<rect x="332.97" y="175.43" width="16.18" height="16.94" fill="#ffeb84"/>
<rect x="363.32" y="175.43" width="16.18" height="16.94" fill="#76c47c"/>
<rect x="378.49" y="175.43" width="16.18" height="16.94" fill="#c4da81"/>
<rect x="393.67" y="175.43" width="16.18" height="16.94" fill="#ffeb84"/>
<rect x="424.02" y="175.43" width="16.18" height="16.94" fill="#f8696b"/>
<rect x="469.55" y="175.43" width="16.18" height="16.94" fill="#f8696b"/>
<rect x="484.73" y="175.43" width="16.18" height="16.94" fill="#fcba7b"/>
<rect x="530.25" y="175.43" width="16.18" height="16.94" fill="#f9796e"/>
<rect x="575.78" y="175.43" width="16.18" height="16.94" fill="#fb9a74"/>
<rect x="590.96" y="175.43" width="16.18" height="16.94" fill="#f8696b"/>
<rect x="621.31" y="175.43" width="16.18" height="16.94" fill="#fcaa78"/>
<rect x="666.84" y="175.43" width="16.18" height="16.94" fill="#f8696b"/>
<rect x="682.01" y="175.43" width="16.18" height="16.94" fill="#f8696b"/>
<rect x="14.27" y="191.48" width="16.18" height="16.94" fill="#f8696b"/>
<rect x="29.45" y="191.48" width="16.18" height="16.94" fill="#f8696b"/>
<rect x="44.62" y="191.48" width="16.18" height="16.94" fill="#f8696b"/>
<rect x="74.97" y="191.48" width="16.18" height="16.94" fill="#fcaa78"/>
<rect x="105.33" y="191.48" width="16.18" height="16.94" fill="#fcaa78"/>
<rect x="120.5" y="191.48" width="16.18" height="16.94" fill="#fedb81"/>
<rect x="226.73" y="191.48" width="16.18" height="16.94" fill="#fcba7b"/>
<rect x="241.91" y="191.48" width="16.18" height="16.94" fill="#fa8a71"/>
<rect x="257.09" y="191.48" width="16.18" height="16.94" fill="#f8696b"/>
<rect x="575.78" y="191.48" width="16.18" height="16.94" fill="#f8696b"/>
<rect x="590.96" y="191.48" width="16.18" height="16.94" fill="#f8696b"/>
<rect x="606.13" y="191.48" width="16.18" height="16.94" fill="#f8696b"/>
<rect x="621.31" y="191.48" width="16.18" height="16.94" fill="#fcba7b"/>
<rect x="651.66" y="191.48" width="16.18" height="16.94" fill="#f8696b"/>
<rect x="666.84" y="191.48" width="16.18" height="16.94" fill="#d8e082"/>
<rect x="14.27" y="207.52" width="16.18" height="16.94" fill="#b1d480"/>
<rect x="29.45" y="207.52" width="16.18" height="16.94" fill="#b1d480"/>
<rect x="44.62" y="207.52" width="16.18" height="16.94" fill="#fa8a71"/>
<rect x="59.8" y="207.52" width="16.18" height="16.94" fill="#fcaa78"/>
<rect x="74.97" y="207.52" width="16.18" height="16.94" fill="#fa8a71"/>
<rect x="90.15" y="207.52" width="16.18" height="16.94" fill="#f8696b"/>
<rect x="105.33" y="207.52" width="16.18" height="16.94" fill="#fa8a71"/>
<rect x="120.5" y="207.52" width="16.18" height="16.94" fill="#f8696b"/>
<rect x="166.03" y="207.52" width="16.18" height="16.94" fill="#f8696b"/>
<rect x="181.21" y="207.52" width="16.18" height="16.94" fill="#fa8a71"/>
<rect x="226.73" y="207.52" width="16.18" height="16.94" fill="#fa8a71"/>
<rect x="257.09" y="207.52" width="16.18" height="16.94" fill="#76c47c"/>
<rect x="272.26" y="207.52" width="16.18" height="16.94" fill="#fcaa78"/>
<rect x="287.44" y="207.52" width="16.18" height="16.94" fill="#f8696b"/>
<rect x="317.79" y="207.52" width="16.18" height="16.94" fill="#f8696b"/>
<rect x="469.55" y="207.52" width="16.18" height="16.94" fill="#fcba7b"/>
<rect x="515.08" y="207.52" width="16.18" height="16.94" fill="#f8696b"/>
<rect x="575.78" y="207.52" width="16.18" height="16.94" fill="#f8696b"/>
<rect x="590.96" y="207.52" width="16.18" height="16.94" fill="#f8696b"/>
<rect x="621.31" y="207.52" width="16.18" height="16.94" fill="#f8696b"/>
<rect x="636.49" y="207.52" width="16.18" height="16.94" fill="#f8696b"/>
<rect x="651.66" y="207.52" width="16.18" height="16.94" fill="#f8696b"/>
<rect x="666.84" y="207.52" width="16.18" height="16.94" fill="#fedb81"/>
<rect x="682.01" y="207.52" width="16.18" height="16.94" fill="#f8696b"/>
<rect x="14.27" y="223.56" width="16.18" height="16.94" fill="#f8696b"/>
<rect x="29.45" y="223.56" width="16.18" height="16.94" fill="#f8696b"/>
<rect x="44.62" y="223.56" width="16.18" height="16.94" fill="#fa8a71"/>
<rect x="59.8" y="223.56" width="16.18" height="16.94" fill="#fedb81"/>
<rect x="74.97" y="223.56" width="16.18" height="16.94" fill="#f8696b"/>
<rect x="105.33" y="223.56" width="16.18" height="16.94" fill="#fa8a71"/>
<rect x="120.5" y="223.56" width="16.18" height="16.94" fill="#fcaa78"/>
<rect x="135.68" y="223.56" width="16.18" height="16.94" fill="#fcba7b"/>
<rect x="150.85" y="223.56" width="16.18" height="16.94" fill="#fcaa78"/>
<rect x="166.03" y="223.56" width="16.18" height="16.94" fill="#f9796e"/>
<rect x="181.21" y="223.56" width="16.18" height="16.94" fill="#fdca7e"/>
<rect x="196.38" y="223.56" width="16.18" height="16.94" fill="#fdca7e"/>
<rect x="241.91" y="223.56" width="16.18" height="16.94" fill="#d8e082"/>
<rect x="257.09" y="223.56" width="16.18" height="16.94" fill="#fcaa78"/>
<rect x="272.26" y="223.56" width="16.18" height="16.94" fill="#6fc17c"/>
<rect x="287.44" y="223.56" width="16.18" height="16.94" fill="#fa8a71"/>
<rect x="332.97" y="223.56" width="16.18" height="16.94" fill="#fa8a71"/>
<rect x="363.32" y="223.56" width="16.18" height="16.94" fill="#fcaa78"/>
<rect x="378.49" y="223.56" width="16.18" height="16.94" fill="#f8696b"/>
<rect x="393.67" y="223.56" width="16.18" height="16.94" fill="#f9796e"/>
<rect x="424.02" y="223.56" width="16.18" height="16.94" fill="#f8696b"/>
<rect x="575.78" y="223.56" width="16.18" height="16.94" fill="#fedb81"/>
<rect x="590.96" y="223.56" width="16.18" height="16.94" fill="#fcba7b"/>
<rect x="606.13" y="223.56" width="16.18" height="16.94" fill="#f8696b"/>
<rect x="621.31" y="223.56" width="16.18" height="16.94" fill="#76c47c"/>
<rect x="636.49" y="223.56" width="16.18" height="16.94" fill="#9ecf7e"/>
<rect x="651.66" y="223.56" width="16.18" height="16.94" fill="#f8696b"/>
<rect x="666.84" y="223.56" width="16.18" height="16.94" fill="#f8696b"/>
<rect x="14.27" y="239.61" width="16.18" height="16.94" fill="#ece583"/>
<rect x="29.45" y="239.61" width="16.18" height="16.94" fill="#ffeb84"/>
<rect x="44.62" y="239.61" width="16.18" height="16.94" fill="#fa8a71"/>
<rect x="59.8" y="239.61" width="16.18" height="16.94" fill="#b1d480"/>
<rect x="74.97" y="239.61" width="16.18" height="16.94" fill="#b1d480"/>
<rect x="90.15" y="239.61" width="16.18" height="16.94" fill="#f8696b"/>
<rect x="105.33" y="239.61" width="16.18" height="16.94" fill="#f8696b"/>
<rect x="120.5" y="239.61" width="16.18" height="16.94" fill="#fb9a74"/>
<rect x="135.68" y="239.61" width="16.18" height="16.94" fill="#fa8a71"/>
<rect x="150.85" y="239.61" width="16.18" height="16.94" fill="#f9796e"/>
<rect x="166.03" y="239.61" width="16.18" height="16.94" fill="#f8696b"/>
<rect x="181.21" y="239.61" width="16.18" height="16.94" fill="#fedb81"/>
<rect x="211.56" y="239.61" width="16.18" height="16.94" fill="#fcaa78"/>
<rect x="241.91" y="239.61" width="16.18" height="16.94" fill="#fcba7b"/>
<rect x="272.26" y="239.61" width="16.18" height="16.94" fill="#f8696b"/>
<rect x="317.79" y="239.61" width="16.18" height="16.94" fill="#f8696b"/>
<rect x="332.97" y="239.61" width="16.18" height="16.94" fill="#fdca7e"/>
<rect x="363.32" y="239.61" width="16.18" height="16.94" fill="#76c47c"/>
<rect x="408.85" y="239.61" width="16.18" height="16.94" fill="#8ac97d"/>
<rect x="469.55" y="239.61" width="16.18" height="16.94" fill="#f8696b"/>
<rect x="530.25" y="239.61" width="16.18" height="16.94" fill="#f8696b"/>
<rect x="575.78" y="239.61" width="16.18" height="16.94" fill="#d8e082"/>
<rect x="590.96" y="239.61" width="16.18" height="16.94" fill="#f8696b"/>
<rect x="606.13" y="239.61" width="16.18" height="16.94" fill="#f8696b"/>
<rect x="621.31" y="239.61" width="16.18" height="16.94" fill="#f8696b"/>
<rect x="636.49" y="239.61" width="16.18" height="16.94" fill="#fcba7b"/>
<rect x="651.66" y="239.61" width="16.18" height="16.94" fill="#fcaa78"/>
<rect x="666.84" y="239.61" width="16.18" height="16.94" fill="#fcba7b"/>
<rect x="682.01" y="239.61" width="16.18" height="16.94" fill="#f8696b"/>
<rect x="14.27" y="255.65" width="16.18" height="16.94" fill="#fdca7e"/>
<rect x="29.45" y="255.65" width="16.18" height="16.94" fill="#fb9a74"/>
<rect x="44.62" y="255.65" width="16.18" height="16.94" fill="#fcba7b"/>
<rect x="59.8" y="255.65" width="16.18" height="16.94" fill="#6fc17c"/>
<rect x="74.97" y="255.65" width="16.18" height="16.94" fill="#f8696b"/>
<rect x="90.15" y="255.65" width="16.18" height="16.94" fill="#fa8a71"/>
<rect x="105.33" y="255.65" width="16.18" height="16.94" fill="#6fc17c"/>
<rect x="120.5" y="255.65" width="16.18" height="16.94" fill="#f8696b"/>
<rect x="135.68" y="255.65" width="16.18" height="16.94" fill="#fedb81"/>
<rect x="150.85" y="255.65" width="16.18" height="16.94" fill="#f8696b"/>
<rect x="166.03" y="255.65" width="16.18" height="16.94" fill="#f8696b"/>
<rect x="181.21" y="255.65" width="16.18" height="16.94" fill="#fa8a71"/>
<rect x="226.73" y="255.65" width="16.18" height="16.94" fill="#b1d480"/>
<rect x="241.91" y="255.65" width="16.18" height="16.94" fill="#fcba7b"/>
<rect x="257.09" y="255.65" width="16.18" height="16.94" fill="#fcba7b"/>
<rect x="272.26" y="255.65" width="16.18" height="16.94" fill="#f8696b"/>
<rect x="287.44" y="255.65" width="16.18" height="16.94" fill="#fcba7b"/>
<rect x="317.79" y="255.65" width="16.18" height="16.94" fill="#f8696b"/>
<rect x="332.97" y="255.65" width="16.18" height="16.94" fill="#fcaa78"/>
<rect x="348.14" y="255.65" width="16.18" height="16.94" fill="#ffeb84"/>
<rect x="363.32" y="255.65" width="16.18" height="16.94" fill="#76c47c"/>
<rect x="378.49" y="255.65" width="16.18" height="16.94" fill="#c4da81"/>
<rect x="393.67" y="255.65" width="16.18" height="16.94" fill="#fedb81"/>
<rect x="408.85" y="255.65" width="16.18" height="16.94" fill="#fedb81"/>
<rect x="424.02" y="255.65" width="16.18" height="16.94" fill="#f8696b"/>
<rect x="439.2" y="255.65" width="16.18" height="16.94" fill="#fa8a71"/>
<rect x="575.78" y="255.65" width="16.18" height="16.94" fill="#f8696b"/>
<rect x="590.96" y="255.65" width="16.18" height="16.94" fill="#f9796e"/>
<rect x="606.13" y="255.65" width="16.18" height="16.94" fill="#fa8a71"/>
<rect x="621.31" y="255.65" width="16.18" height="16.94" fill="#fa8a71"/>
<rect x="636.49" y="255.65" width="16.18" height="16.94" fill="#f8696b"/>
<rect x="651.66" y="255.65" width="16.18" height="16.94" fill="#f8696b"/>
<rect x="682.01" y="255.65" width="16.18" height="16.94" fill="#d8e082"/>
<rect x="14.27" y="271.7" width="16.18" height="16.94" fill="#fdca7e"/>
<rect x="29.45" y="271.7" width="16.18" height="16.94" fill="#fb9a74"/>
<rect x="44.62" y="271.7" width="16.18" height="16.94" fill="#fdca7e"/>
<rect x="59.8" y="271.7" width="16.18" height="16.94" fill="#fa8a71"/>
<rect x="74.97" y="271.7" width="16.18" height="16.94" fill="#f9796e"/>
<rect x="90.15" y="271.7" width="16.18" height="16.94" fill="#f9796e"/>
<rect x="105.33" y="271.7" width="16.18" height="16.94" fill="#f8696b"/>
<rect x="120.5" y="271.7" width="16.18" height="16.94" fill="#f9796e"/>
<rect x="135.68" y="271.7" width="16.18" height="16.94" fill="#fcaa78"/>
<rect x="150.85" y="271.7" width="16.18" height="16.94" fill="#ffeb84"/>
<rect x="166.03" y="271.7" width="16.18" height="16.94" fill="#fa8a71"/>
<rect x="181.21" y="271.7" width="16.18" height="16.94" fill="#fb9a74"/>
<rect x="196.38" y="271.7" width="16.18" height="16.94" fill="#f8696b"/>
<rect x="211.56" y="271.7" width="16.18" height="16.94" fill="#f8696b"/>
<rect x="226.73" y="271.7" width="16.18" height="16.94" fill="#fedb81"/>
<rect x="241.91" y="271.7" width="16.18" height="16.94" fill="#b1d480"/>
<rect x="257.09" y="271.7" width="16.18" height="16.94" fill="#f8696b"/>
<rect x="272.26" y="271.7" width="16.18" height="16.94" fill="#f9796e"/>
<rect x="287.44" y="271.7" width="16.18" height="16.94" fill="#fdca7e"/>
<rect x="302.61" y="271.7" width="16.18" height="16.94" fill="#f8696b"/>
<rect x="317.79" y="271.7" width="16.18" height="16.94" fill="#f8696b"/>
<rect x="332.97" y="271.7" width="16.18" height="16.94" fill="#fdca7e"/>
<rect x="348.14" y="271.7" width="16.18" height="16.94" fill="#c4da81"/>
<rect x="363.32" y="271.7" width="16.18" height="16.94" fill="#9ecf7e"/>
<rect x="378.49" y="271.7" width="16.18" height="16.94" fill="#b1d480"/>
<rect x="408.85" y="271.7" width="16.18" height="16.94" fill="#f8696b"/>
<rect x="424.02" y="271.7" width="16.18" height="16.94" fill="#fa8a71"/>
<rect x="439.2" y="271.7" width="16.18" height="16.94" fill="#f9796e"/>
<rect x="515.08" y="271.7" width="16.18" height="16.94" fill="#f8696b"/>
<rect x="575.78" y="271.7" width="16.18" height="16.94" fill="#fcba7b"/>
<rect x="590.96" y="271.7" width="16.18" height="16.94" fill="#f8696b"/>
<rect x="606.13" y="271.7" width="16.18" height="16.94" fill="#fcba7b"/>
<rect x="621.31" y="271.7" width="16.18" height="16.94" fill="#fedb81"/>
<rect x="636.49" y="271.7" width="16.18" height="16.94" fill="#ffeb84"/>
<rect x="651.66" y="271.7" width="16.18" height="16.94" fill="#fdca7e"/>
<rect x="666.84" y="271.7" width="16.18" height="16.94" fill="#fcba7b"/>
<rect x="682.01" y="271.7" width="16.18" height="16.94" fill="#f9796e"/>
<rect x="14.27" y="287.74" width="16.18" height="16.94" fill="#ffeb84"/>
<rect x="29.45" y="287.74" width="16.18" height="16.94" fill="#fdca7e"/>
<rect x="44.62" y="287.74" width="16.18" height="16.94" fill="#f8696b"/>
<rect x="59.8" y="287.74" width="16.18" height="16.94" fill="#fedb81"/>
<rect x="74.97" y="287.74" width="16.18" height="16.94" fill="#b1d480"/>
<rect x="90.15" y="287.74" width="16.18" height="16.94" fill="#9ecf7e"/>
<rect x="105.33" y="287.74" width="16.18" height="16.94" fill="#fcaa78"/>
<rect x="120.5" y="287.74" width="16.18" height="16.94" fill="#9ecf7e"/>
<rect x="135.68" y="287.74" width="16.18" height="16.94" fill="#f8696b"/>
<rect x="150.85" y="287.74" width="16.18" height="16.94" fill="#fcba7b"/>
<rect x="166.03" y="287.74" width="16.18" height="16.94" fill="#fcaa78"/>
<rect x="181.21" y="287.74" width="16.18" height="16.94" fill="#fcaa78"/>
<rect x="196.38" y="287.74" width="16.18" height="16.94" fill="#f9796e"/>
<rect x="211.56" y="287.74" width="16.18" height="16.94" fill="#fdca7e"/>
<rect x="226.73" y="287.74" width="16.18" height="16.94" fill="#f8696b"/>
<rect x="241.91" y="287.74" width="16.18" height="16.94" fill="#f9796e"/>
<rect x="257.09" y="287.74" width="16.18" height="16.94" fill="#b1d480"/>
<rect x="272.26" y="287.74" width="16.18" height="16.94" fill="#fa8a71"/>
<rect x="287.44" y="287.74" width="16.18" height="16.94" fill="#fcba7b"/>
<rect x="317.79" y="287.74" width="16.18" height="16.94" fill="#fedb81"/>
<rect x="332.97" y="287.74" width="16.18" height="16.94" fill="#fedb81"/>
<rect x="348.14" y="287.74" width="16.18" height="16.94" fill="#fcba7b"/>
<rect x="363.32" y="287.74" width="16.18" height="16.94" fill="#d8e082"/>
<rect x="378.49" y="287.74" width="16.18" height="16.94" fill="#fdca7e"/>
<rect x="393.67" y="287.74" width="16.18" height="16.94" fill="#fcba7b"/>
<rect x="408.85" y="287.74" width="16.18" height="16.94" fill="#ffeb84"/>
<rect x="424.02" y="287.74" width="16.18" height="16.94" fill="#fcba7b"/>
<rect x="439.2" y="287.74" width="16.18" height="16.94" fill="#fedb81"/>
<rect x="484.73" y="287.74" width="16.18" height="16.94" fill="#fa8a71"/>
<rect x="499.9" y="287.74" width="16.18" height="16.94" fill="#fedb81"/>
<rect x="545.43" y="287.74" width="16.18" height="16.94" fill="#fdca7e"/>
<rect x="575.78" y="287.74" width="16.18" height="16.94" fill="#fcba7b"/>
<rect x="590.96" y="287.74" width="16.18" height="16.94" fill="#9ecf7e"/>
<rect x="606.13" y="287.74" width="16.18" height="16.94" fill="#76c47c"/>
<rect x="621.31" y="287.74" width="16.18" height="16.94" fill="#fcaa78"/>
<rect x="636.49" y="287.74" width="16.18" height="16.94" fill="#fb9a74"/>
<rect x="651.66" y="287.74" width="16.18" height="16.94" fill="#f8696b"/>
<rect x="666.84" y="287.74" width="16.18" height="16.94" fill="#fdca7e"/>
<rect x="682.01" y="287.74" width="16.18" height="16.94" fill="#f8696b"/>
<rect x="14.27" y="303.78" width="16.18" height="16.94" fill="#76c47c"/>
<rect x="29.45" y="303.78" width="16.18" height="16.94" fill="#76c47c"/>
<rect x="59.8" y="303.78" width="16.18" height="16.94" fill="#ffeb84"/>
<rect x="74.97" y="303.78" width="16.18" height="16.94" fill="#fa8a71"/>
<rect x="90.15" y="303.78" width="16.18" height="16.94" fill="#f8696b"/>
<rect x="105.33" y="303.78" width="16.18" height="16.94" fill="#f8696b"/>
<rect x="120.5" y="303.78" width="16.18" height="16.94" fill="#76c47c"/>
<rect x="135.68" y="303.78" width="16.18" height="16.94" fill="#fdca7e"/>
<rect x="150.85" y="303.78" width="16.18" height="16.94" fill="#c4da81"/>
<rect x="166.03" y="303.78" width="16.18" height="16.94" fill="#f8696b"/>
<rect x="181.21" y="303.78" width="16.18" height="16.94" fill="#f9796e"/>
<rect x="196.38" y="303.78" width="16.18" height="16.94" fill="#ffeb84"/>
<rect x="226.73" y="303.78" width="16.18" height="16.94" fill="#fedb81"/>
<rect x="241.91" y="303.78" width="16.18" height="16.94" fill="#d8e082"/>
<rect x="257.09" y="303.78" width="16.18" height="16.94" fill="#d8e082"/>
<rect x="272.26" y="303.78" width="16.18" height="16.94" fill="#fedb81"/>
<rect x="287.44" y="303.78" width="16.18" height="16.94" fill="#fcaa78"/>
<rect x="302.61" y="303.78" width="16.18" height="16.94" fill="#f9796e"/>
<rect x="317.79" y="303.78" width="16.18" height="16.94" fill="#ffeb84"/>
<rect x="332.97" y="303.78" width="16.18" height="16.94" fill="#9ecf7e"/>
<rect x="348.14" y="303.78" width="16.18" height="16.94" fill="#8ac97d"/>
<rect x="363.32" y="303.78" width="16.18" height="16.94" fill="#8ac97d"/>
<rect x="378.49" y="303.78" width="16.18" height="16.94" fill="#9ecf7e"/>
<rect x="393.67" y="303.78" width="16.18" height="16.94" fill="#f9796e"/>
<rect x="408.85" y="303.78" width="16.18" height="16.94" fill="#8ac97d"/>
<rect x="424.02" y="303.78" width="16.18" height="16.94" fill="#ece583"/>
<rect x="439.2" y="303.78" width="16.18" height="16.94" fill="#8ac97d"/>
<rect x="454.37" y="303.78" width="16.18" height="16.94" fill="#c4da81"/>
<rect x="469.55" y="303.78" width="16.18" height="16.94" fill="#c4da81"/>
<rect x="484.73" y="303.78" width="16.18" height="16.94" fill="#fcba7b"/>
<rect x="499.9" y="303.78" width="16.18" height="16.94" fill="#9ecf7e"/>
<rect x="515.08" y="303.78" width="16.18" height="16.94" fill="#c4da81"/>
<rect x="545.43" y="303.78" width="16.18" height="16.94" fill="#fcba7b"/>
<rect x="560.61" y="303.78" width="16.18" height="16.94" fill="#fedb81"/>
<rect x="575.78" y="303.78" width="16.18" height="16.94" fill="#fcaa78"/>
<rect x="590.96" y="303.78" width="16.18" height="16.94" fill="#f8696b"/>
<rect x="606.13" y="303.78" width="16.18" height="16.94" fill="#ffeb84"/>
<rect x="621.31" y="303.78" width="16.18" height="16.94" fill="#b1d480"/>
<rect x="636.49" y="303.78" width="16.18" height="16.94" fill="#f8696b"/>
<rect x="651.66" y="303.78" width="16.18" height="16.94" fill="#fdca7e"/>
<rect x="666.84" y="303.78" width="16.18" height="16.94" fill="#fedb81"/>
<rect x="682.01" y="303.78" width="16.18" height="16.94" fill="#f9796e"/>
<rect x="14.27" y="319.83" width="16.18" height="16.94" fill="#76c47c"/>
<rect x="29.45" y="319.83" width="16.18" height="16.94" fill="#76c47c"/>
<rect x="44.62" y="319.83" width="16.18" height="16.94" fill="#76c47c"/>
<rect x="59.8" y="319.83" width="16.18" height="16.94" fill="#76c47c"/>
<rect x="74.97" y="319.83" width="16.18" height="16.94" fill="#8ac97d"/>
<rect x="90.15" y="319.83" width="16.18" height="16.94" fill="#76c47c"/>
<rect x="105.33" y="319.83" width="16.18" height="16.94" fill="#76c47c"/>
<rect x="120.5" y="319.83" width="16.18" height="16.94" fill="#76c47c"/>
<rect x="135.68" y="319.83" width="16.18" height="16.94" fill="#76c47c"/>
<rect x="150.85" y="319.83" width="16.18" height="16.94" fill="#76c47c"/>
<rect x="166.03" y="319.83" width="16.18" height="16.94" fill="#8ac97d"/>
<rect x="181.21" y="319.83" width="16.18" height="16.94" fill="#6fc17c"/>
<rect x="196.38" y="319.83" width="16.18" height="16.94" fill="#9ecf7e"/>
<rect x="211.56" y="319.83" width="16.18" height="16.94" fill="#76c47c"/>
<rect x="226.73" y="319.83" width="16.18" height="16.94" fill="#76c47c"/>
<rect x="241.91" y="319.83" width="16.18" height="16.94" fill="#76c47c"/>
<rect x="257.09" y="319.83" width="16.18" height="16.94" fill="#f8696b"/>
<rect x="272.26" y="319.83" width="16.18" height="16.94" fill="#76c47c"/>
<rect x="287.44" y="319.83" width="16.18" height="16.94" fill="#c4da81"/>
<rect x="302.61" y="319.83" width="16.18" height="16.94" fill="#fcba7b"/>
<rect x="317.79" y="319.83" width="16.18" height="16.94" fill="#fdca7e"/>
<rect x="332.97" y="319.83" width="16.18" height="16.94" fill="#ece583"/>
<rect x="348.14" y="319.83" width="16.18" height="16.94" fill="#fdca7e"/>
<rect x="363.32" y="319.83" width="16.18" height="16.94" fill="#8ac97d"/>
<rect x="378.49" y="319.83" width="16.18" height="16.94" fill="#76c47c"/>
<rect x="393.67" y="319.83" width="16.18" height="16.94" fill="#ffeb84"/>
<rect x="408.85" y="319.83" width="16.18" height="16.94" fill="#8ac97d"/>
<rect x="424.02" y="319.83" width="16.18" height="16.94" fill="#9ecf7e"/>
<rect x="439.2" y="319.83" width="16.18" height="16.94" fill="#fcaa78"/>
<rect x="469.55" y="319.83" width="16.18" height="16.94" fill="#8ac97d"/>
<rect x="499.9" y="319.83" width="16.18" height="16.94" fill="#fa8a71"/>
<rect x="530.25" y="319.83" width="16.18" height="16.94" fill="#f8696b"/>
<rect x="575.78" y="319.83" width="16.18" height="16.94" fill="#fedb81"/>
<rect x="590.96" y="319.83" width="16.18" height="16.94" fill="#6fc17c"/>
<rect x="606.13" y="319.83" width="16.18" height="16.94" fill="#76c47c"/>
<rect x="621.31" y="319.83" width="16.18" height="16.94" fill="#76c47c"/>
<rect x="636.49" y="319.83" width="16.18" height="16.94" fill="#8ac97d"/>
<rect x="651.66" y="319.83" width="16.18" height="16.94" fill="#d8e082"/>
<rect x="666.84" y="319.83" width="16.18" height="16.94" fill="#fedb81"/>
<rect x="682.01" y="319.83" width="16.18" height="16.94" fill="#8ac97d"/>
<rect x="14.27" y="335.87" width="16.18" height="16.94" fill="#c4da81"/>
<rect x="29.45" y="335.87" width="16.18" height="16.94" fill="#b1d480"/>
<rect x="44.62" y="335.87" width="16.18" height="16.94" fill="#76c47c"/>
<rect x="59.8" y="335.87" width="16.18" height="16.94" fill="#76c47c"/>
<rect x="74.97" y="335.87" width="16.18" height="16.94" fill="#d8e082"/>
<rect x="90.15" y="335.87" width="16.18" height="16.94" fill="#d8e082"/>
<rect x="105.33" y="335.87" width="16.18" height="16.94" fill="#9ecf7e"/>
<rect x="120.5" y="335.87" width="16.18" height="16.94" fill="#ece583"/>
<rect x="135.68" y="335.87" width="16.18" height="16.94" fill="#fcba7b"/>
<rect x="150.85" y="335.87" width="16.18" height="16.94" fill="#fcba7b"/>
<rect x="166.03" y="335.87" width="16.18" height="16.94" fill="#fdca7e"/>
<rect x="181.21" y="335.87" width="16.18" height="16.94" fill="#b1d480"/>
<rect x="196.38" y="335.87" width="16.18" height="16.94" fill="#fcaa78"/>
<rect x="211.56" y="335.87" width="16.18" height="16.94" fill="#c4da81"/>
<rect x="226.73" y="335.87" width="16.18" height="16.94" fill="#ffeb84"/>
<rect x="241.91" y="335.87" width="16.18" height="16.94" fill="#c4da81"/>
<rect x="257.09" y="335.87" width="16.18" height="16.94" fill="#ffeb84"/>
<rect x="272.26" y="335.87" width="16.18" height="16.94" fill="#fdca7e"/>
<rect x="287.44" y="335.87" width="16.18" height="16.94" fill="#fdca7e"/>
<rect x="302.61" y="335.87" width="16.18" height="16.94" fill="#fb9a74"/>
<rect x="317.79" y="335.87" width="16.18" height="16.94" fill="#fedb81"/>
<rect x="332.97" y="335.87" width="16.18" height="16.94" fill="#fcaa78"/>
<rect x="348.14" y="335.87" width="16.18" height="16.94" fill="#fb9a74"/>
<rect x="363.32" y="335.87" width="16.18" height="16.94" fill="#fcba7b"/>
<rect x="378.49" y="335.87" width="16.18" height="16.94" fill="#fedb81"/>
<rect x="393.67" y="335.87" width="16.18" height="16.94" fill="#fcba7b"/>
<rect x="408.85" y="335.87" width="16.18" height="16.94" fill="#d8e082"/>
<rect x="424.02" y="335.87" width="16.18" height="16.94" fill="#76c47c"/>
<rect x="439.2" y="335.87" width="16.18" height="16.94" fill="#fedb81"/>
<rect x="454.37" y="335.87" width="16.18" height="16.94" fill="#8ac97d"/>
<rect x="469.55" y="335.87" width="16.18" height="16.94" fill="#fcba7b"/>
<rect x="484.73" y="335.87" width="16.18" height="16.94" fill="#d8e082"/>
<rect x="499.9" y="335.87" width="16.18" height="16.94" fill="#fa8a71"/>
<rect x="515.08" y="335.87" width="16.18" height="16.94" fill="#6fc17c"/>
<rect x="530.25" y="335.87" width="16.18" height="16.94" fill="#f8696b"/>
<rect x="545.43" y="335.87" width="16.18" height="16.94" fill="#c4da81"/>
<rect x="560.61" y="335.87" width="16.18" height="16.94" fill="#fcaa78"/>
<rect x="575.78" y="335.87" width="16.18" height="16.94" fill="#fdca7e"/>
<rect x="590.96" y="335.87" width="16.18" height="16.94" fill="#9ecf7e"/>
<rect x="606.13" y="335.87" width="16.18" height="16.94" fill="#9ecf7e"/>
<rect x="621.31" y="335.87" width="16.18" height="16.94" fill="#ffeb84"/>
<rect x="636.49" y="335.87" width="16.18" height="16.94" fill="#fdca7e"/>
<rect x="651.66" y="335.87" width="16.18" height="16.94" fill="#fcaa78"/>
<rect x="666.84" y="335.87" width="16.18" height="16.94" fill="#fa8a71"/>
<rect x="682.01" y="335.87" width="16.18" height="16.94" fill="#fa8a71"/>
<rect x="14.27" y="351.92" width="16.18" height="16.94" fill="#b1d480"/>
<rect x="29.45" y="351.92" width="16.18" height="16.94" fill="#b1d480"/>
<rect x="44.62" y="351.92" width="16.18" height="16.94" fill="#fcaa78"/>
<rect x="59.8" y="351.92" width="16.18" height="16.94" fill="#fb9a74"/>
<rect x="90.15" y="351.92" width="16.18" height="16.94" fill="#fa8a71"/>
<rect x="105.33" y="351.92" width="16.18" height="16.94" fill="#fcaa78"/>
<rect x="120.5" y="351.92" width="16.18" height="16.94" fill="#f8696b"/>
<rect x="135.68" y="351.92" width="16.18" height="16.94" fill="#f8696b"/>
<rect x="150.85" y="351.92" width="16.18" height="16.94" fill="#f8696b"/>
<rect x="166.03" y="351.92" width="16.18" height="16.94" fill="#f9796e"/>
<rect x="181.21" y="351.92" width="16.18" height="16.94" fill="#f8696b"/>
<rect x="196.38" y="351.92" width="16.18" height="16.94" fill="#fcaa78"/>
<rect x="211.56" y="351.92" width="16.18" height="16.94" fill="#fa8a71"/>
<rect x="226.73" y="351.92" width="16.18" height="16.94" fill="#fa8a71"/>
<rect x="241.91" y="351.92" width="16.18" height="16.94" fill="#fcba7b"/>
<rect x="257.09" y="351.92" width="16.18" height="16.94" fill="#fb9a74"/>
<rect x="272.26" y="351.92" width="16.18" height="16.94" fill="#f9796e"/>
<rect x="302.61" y="351.92" width="16.18" height="16.94" fill="#fdca7e"/>
<rect x="317.79" y="351.92" width="16.18" height="16.94" fill="#76c47c"/>
<rect x="332.97" y="351.92" width="16.18" height="16.94" fill="#ffeb84"/>
<rect x="348.14" y="351.92" width="16.18" height="16.94" fill="#f8696b"/>
<rect x="378.49" y="351.92" width="16.18" height="16.94" fill="#fdca7e"/>
<rect x="424.02" y="351.92" width="16.18" height="16.94" fill="#76c47c"/>
<rect x="439.2" y="351.92" width="16.18" height="16.94" fill="#f8696b"/>
<rect x="575.78" y="351.92" width="16.18" height="16.94" fill="#fdca7e"/>
<rect x="590.96" y="351.92" width="16.18" height="16.94" fill="#fb9a74"/>
<rect x="606.13" y="351.92" width="16.18" height="16.94" fill="#fcba7b"/>
<rect x="621.31" y="351.92" width="16.18" height="16.94" fill="#fcaa78"/>
<rect x="636.49" y="351.92" width="16.18" height="16.94" fill="#f8696b"/>
<rect x="651.66" y="351.92" width="16.18" height="16.94" fill="#f9796e"/>
<rect x="666.84" y="351.92" width="16.18" height="16.94" fill="#f8696b"/>
<rect x="682.01" y="351.92" width="16.18" height="16.94" fill="#ffeb84"/>
<rect x="29.45" y="367.96" width="16.18" height="16.94" fill="#fa8a71"/>
<rect x="44.62" y="367.96" width="16.18" height="16.94" fill="#fdca7e"/>
<rect x="59.8" y="367.96" width="16.18" height="16.94" fill="#fa8a71"/>
<rect x="74.97" y="367.96" width="16.18" height="16.94" fill="#fedb81"/>
<rect x="105.33" y="367.96" width="16.18" height="16.94" fill="#fcaa78"/>
<rect x="120.5" y="367.96" width="16.18" height="16.94" fill="#c4da81"/>
<rect x="166.03" y="367.96" width="16.18" height="16.94" fill="#fa8a71"/>
<rect x="196.38" y="367.96" width="16.18" height="16.94" fill="#fa8a71"/>
<rect x="393.67" y="367.96" width="16.18" height="16.94" fill="#f8696b"/>
<rect x="575.78" y="367.96" width="16.18" height="16.94" fill="#f9796e"/>
<rect x="621.31" y="367.96" width="16.18" height="16.94" fill="#76c47c"/>
<rect x="651.66" y="367.96" width="16.18" height="16.94" fill="#fedb81"/>
<rect x="666.84" y="367.96" width="16.18" height="16.94" fill="#f9796e"/>
<rect x="682.01" y="367.96" width="16.18" height="16.94" fill="#f8696b"/>
<rect x="14.27" y="384" width="16.18" height="16.94" fill="#ffeb84"/>
<rect x="29.45" y="384" width="16.18" height="16.94" fill="#fedb81"/>
<rect x="44.62" y="384" width="16.18" height="16.94" fill="#9ecf7e"/>
<rect x="59.8" y="384" width="16.18" height="16.94" fill="#fcaa78"/>
<rect x="74.97" y="384" width="16.18" height="16.94" fill="#b1d480"/>
<rect x="90.15" y="384" width="16.18" height="16.94" fill="#f9796e"/>
<rect x="105.33" y="384" width="16.18" height="16.94" fill="#fa8a71"/>
<rect x="120.5" y="384" width="16.18" height="16.94" fill="#f8696b"/>
<rect x="135.68" y="384" width="16.18" height="16.94" fill="#fa8a71"/>
<rect x="150.85" y="384" width="16.18" height="16.94" fill="#fcba7b"/>
<rect x="166.03" y="384" width="16.18" height="16.94" fill="#f8696b"/>
<rect x="181.21" y="384" width="16.18" height="16.94" fill="#fdca7e"/>
<rect x="196.38" y="384" width="16.18" height="16.94" fill="#fcaa78"/>
<rect x="211.56" y="384" width="16.18" height="16.94" fill="#fa8a71"/>
<rect x="226.73" y="384" width="16.18" height="16.94" fill="#9ecf7e"/>
<rect x="241.91" y="384" width="16.18" height="16.94" fill="#ece583"/>
<rect x="272.26" y="384" width="16.18" height="16.94" fill="#fa8a71"/>
<rect x="287.44" y="384" width="16.18" height="16.94" fill="#f8696b"/>
<rect x="302.61" y="384" width="16.18" height="16.94" fill="#f9796e"/>
<rect x="317.79" y="384" width="16.18" height="16.94" fill="#f9796e"/>
<rect x="332.97" y="384" width="16.18" height="16.94" fill="#fa8a71"/>
<rect x="348.14" y="384" width="16.18" height="16.94" fill="#ece583"/>
<rect x="363.32" y="384" width="16.18" height="16.94" fill="#f9796e"/>
<rect x="378.49" y="384" width="16.18" height="16.94" fill="#ece583"/>
<rect x="393.67" y="384" width="16.18" height="16.94" fill="#fdca7e"/>
<rect x="408.85" y="384" width="16.18" height="16.94" fill="#fa8a71"/>
<rect x="424.02" y="384" width="16.18" height="16.94" fill="#f8696b"/>
<rect x="439.2" y="384" width="16.18" height="16.94" fill="#fcaa78"/>
<rect x="454.37" y="384" width="16.18" height="16.94" fill="#fdca7e"/>
<rect x="469.55" y="384" width="16.18" height="16.94" fill="#fcaa78"/>
<rect x="484.73" y="384" width="16.18" height="16.94" fill="#fb9a74"/>
<rect x="499.9" y="384" width="16.18" height="16.94" fill="#f9796e"/>
<rect x="515.08" y="384" width="16.18" height="16.94" fill="#f8696b"/>
<rect x="530.25" y="384" width="16.18" height="16.94" fill="#f8696b"/>
<rect x="575.78" y="384" width="16.18" height="16.94" fill="#d8e082"/>
<rect x="590.96" y="384" width="16.18" height="16.94" fill="#d8e082"/>
<rect x="606.13" y="384" width="16.18" height="16.94" fill="#fa8a71"/>
<rect x="621.31" y="384" width="16.18" height="16.94" fill="#f8696b"/>
<rect x="636.49" y="384" width="16.18" height="16.94" fill="#f9796e"/>
<rect x="651.66" y="384" width="16.18" height="16.94" fill="#f8696b"/>
<rect x="666.84" y="384" width="16.18" height="16.94" fill="#fb9a74"/>
<rect x="682.01" y="384" width="16.18" height="16.94" fill="#f8696b"/>
<rect x="14.27" y="400.05" width="16.18" height="16.94" fill="#6fc17c"/>
<rect x="29.45" y="400.05" width="16.18" height="16.94" fill="#8ac97d"/>
<rect x="44.62" y="400.05" width="16.18" height="16.94" fill="#8ac97d"/>
<rect x="59.8" y="400.05" width="16.18" height="16.94" fill="#76c47c"/>
<rect x="74.97" y="400.05" width="16.18" height="16.94" fill="#8ac97d"/>
<rect x="90.15" y="400.05" width="16.18" height="16.94" fill="#8ac97d"/>
<rect x="105.33" y="400.05" width="16.18" height="16.94" fill="#8ac97d"/>
<rect x="120.5" y="400.05" width="16.18" height="16.94" fill="#8ac97d"/>
<rect x="135.68" y="400.05" width="16.18" height="16.94" fill="#c4da81"/>
<rect x="150.85" y="400.05" width="16.18" height="16.94" fill="#c4da81"/>
<rect x="166.03" y="400.05" width="16.18" height="16.94" fill="#8ac97d"/>
<rect x="181.21" y="400.05" width="16.18" height="16.94" fill="#fcaa78"/>
<rect x="196.38" y="400.05" width="16.18" height="16.94" fill="#9ecf7e"/>
<rect x="211.56" y="400.05" width="16.18" height="16.94" fill="#76c47c"/>
<rect x="226.73" y="400.05" width="16.18" height="16.94" fill="#fa8a71"/>
<rect x="241.91" y="400.05" width="16.18" height="16.94" fill="#d8e082"/>
<rect x="257.09" y="400.05" width="16.18" height="16.94" fill="#fb9a74"/>
<rect x="272.26" y="400.05" width="16.18" height="16.94" fill="#76c47c"/>
<rect x="287.44" y="400.05" width="16.18" height="16.94" fill="#76c47c"/>
<rect x="302.61" y="400.05" width="16.18" height="16.94" fill="#fcaa78"/>
<rect x="317.79" y="400.05" width="16.18" height="16.94" fill="#8ac97d"/>
<rect x="332.97" y="400.05" width="16.18" height="16.94" fill="#76c47c"/>
<rect x="348.14" y="400.05" width="16.18" height="16.94" fill="#fa8a71"/>
<rect x="363.32" y="400.05" width="16.18" height="16.94" fill="#76c47c"/>
<rect x="378.49" y="400.05" width="16.18" height="16.94" fill="#b1d480"/>
<rect x="393.67" y="400.05" width="16.18" height="16.94" fill="#76c47c"/>
<rect x="408.85" y="400.05" width="16.18" height="16.94" fill="#6fc17c"/>
<rect x="424.02" y="400.05" width="16.18" height="16.94" fill="#76c47c"/>
<rect x="439.2" y="400.05" width="16.18" height="16.94" fill="#fb9a74"/>
<rect x="454.37" y="400.05" width="16.18" height="16.94" fill="#76c47c"/>
<rect x="469.55" y="400.05" width="16.18" height="16.94" fill="#76c47c"/>
<rect x="484.73" y="400.05" width="16.18" height="16.94" fill="#6fc17c"/>
<rect x="499.9" y="400.05" width="16.18" height="16.94" fill="#fcba7b"/>
<rect x="515.08" y="400.05" width="16.18" height="16.94" fill="#9ecf7e"/>
<rect x="530.25" y="400.05" width="16.18" height="16.94" fill="#8ac97d"/>
<rect x="545.43" y="400.05" width="16.18" height="16.94" fill="#fa8a71"/>
<rect x="560.61" y="400.05" width="16.18" height="16.94" fill="#fcaa78"/>
<rect x="575.78" y="400.05" width="16.18" height="16.94" fill="#76c47c"/>
<rect x="590.96" y="400.05" width="16.18" height="16.94" fill="#d8e082"/>
<rect x="606.13" y="400.05" width="16.18" height="16.94" fill="#ece583"/>
<rect x="621.31" y="400.05" width="16.18" height="16.94" fill="#6fc17c"/>
<rect x="636.49" y="400.05" width="16.18" height="16.94" fill="#76c47c"/>
<rect x="651.66" y="400.05" width="16.18" height="16.94" fill="#fdca7e"/>
<rect x="666.84" y="400.05" width="16.18" height="16.94" fill="#8ac97d"/>
<rect x="682.01" y="400.05" width="16.18" height="16.94" fill="#fcaa78"/>
<rect x="14.27" y="416.09" width="16.18" height="16.94" fill="#6fc17c"/>
<rect x="29.45" y="416.09" width="16.18" height="16.94" fill="#76c47c"/>
<rect x="44.62" y="416.09" width="16.18" height="16.94" fill="#76c47c"/>
<rect x="59.8" y="416.09" width="16.18" height="16.94" fill="#d8e082"/>
<rect x="74.97" y="416.09" width="16.18" height="16.94" fill="#fdca7e"/>
<rect x="90.15" y="416.09" width="16.18" height="16.94" fill="#9ecf7e"/>
<rect x="105.33" y="416.09" width="16.18" height="16.94" fill="#6fc17c"/>
<rect x="120.5" y="416.09" width="16.18" height="16.94" fill="#f8696b"/>
<rect x="135.68" y="416.09" width="16.18" height="16.94" fill="#6fc17c"/>
<rect x="150.85" y="416.09" width="16.18" height="16.94" fill="#76c47c"/>
<rect x="166.03" y="416.09" width="16.18" height="16.94" fill="#76c47c"/>
<rect x="181.21" y="416.09" width="16.18" height="16.94" fill="#f9796e"/>
<rect x="211.56" y="416.09" width="16.18" height="16.94" fill="#76c47c"/>
<rect x="226.73" y="416.09" width="16.18" height="16.94" fill="#76c47c"/>
<rect x="241.91" y="416.09" width="16.18" height="16.94" fill="#fcaa78"/>
<rect x="257.09" y="416.09" width="16.18" height="16.94" fill="#6fc17c"/>
<rect x="272.26" y="416.09" width="16.18" height="16.94" fill="#fedb81"/>
<rect x="287.44" y="416.09" width="16.18" height="16.94" fill="#fdca7e"/>
<rect x="317.79" y="416.09" width="16.18" height="16.94" fill="#c4da81"/>
<rect x="332.97" y="416.09" width="16.18" height="16.94" fill="#fedb81"/>
<rect x="348.14" y="416.09" width="16.18" height="16.94" fill="#76c47c"/>
<rect x="363.32" y="416.09" width="16.18" height="16.94" fill="#76c47c"/>
<rect x="378.49" y="416.09" width="16.18" height="16.94" fill="#d8e082"/>
<rect x="393.67" y="416.09" width="16.18" height="16.94" fill="#76c47c"/>
<rect x="408.85" y="416.09" width="16.18" height="16.94" fill="#76c47c"/>
<rect x="424.02" y="416.09" width="16.18" height="16.94" fill="#9ecf7e"/>
<rect x="439.2" y="416.09" width="16.18" height="16.94" fill="#fdca7e"/>
<rect x="469.55" y="416.09" width="16.18" height="16.94" fill="#9ecf7e"/>
<rect x="499.9" y="416.09" width="16.18" height="16.94" fill="#76c47c"/>
<rect x="515.08" y="416.09" width="16.18" height="16.94" fill="#f8696b"/>
<rect x="560.61" y="416.09" width="16.18" height="16.94" fill="#fedb81"/>
<rect x="575.78" y="416.09" width="16.18" height="16.94" fill="#ffeb84"/>
<rect x="590.96" y="416.09" width="16.18" height="16.94" fill="#fdca7e"/>
<rect x="606.13" y="416.09" width="16.18" height="16.94" fill="#8ac97d"/>
<rect x="621.31" y="416.09" width="16.18" height="16.94" fill="#6fc17c"/>
<rect x="636.49" y="416.09" width="16.18" height="16.94" fill="#b1d480"/>
<rect x="666.84" y="416.09" width="16.18" height="16.94" fill="#8ac97d"/>
<rect x="682.01" y="416.09" width="16.18" height="16.94" fill="#fcaa78"/>
<rect x="14.27" y="432.14" width="16.18" height="16.94" fill="#fa8a71"/>
<rect x="29.45" y="432.14" width="16.18" height="16.94" fill="#f9796e"/>
<rect x="59.8" y="432.14" width="16.18" height="16.94" fill="#f8696b"/>
<rect x="105.33" y="432.14" width="16.18" height="16.94" fill="#9ecf7e"/>
<rect x="166.03" y="432.14" width="16.18" height="16.94" fill="#f8696b"/>
<rect x="181.21" y="432.14" width="16.18" height="16.94" fill="#f8696b"/>
<rect x="196.38" y="432.14" width="16.18" height="16.94" fill="#fcaa78"/>
<rect x="272.26" y="432.14" width="16.18" height="16.94" fill="#f8696b"/>
<rect x="332.97" y="432.14" width="16.18" height="16.94" fill="#fcba7b"/>
<rect x="363.32" y="432.14" width="16.18" height="16.94" fill="#fcaa78"/>
<rect x="575.78" y="432.14" width="16.18" height="16.94" fill="#f8696b"/>
<rect x="621.31" y="432.14" width="16.18" height="16.94" fill="#f8696b"/>
<rect x="651.66" y="432.14" width="16.18" height="16.94" fill="#f9796e"/>
<rect x="14.27" y="448.18" width="16.18" height="16.94" fill="#f8696b"/>
<rect x="29.45" y="448.18" width="16.18" height="16.94" fill="#f8696b"/>
<rect x="44.62" y="448.18" width="16.18" height="16.94" fill="#fdca7e"/>
<rect x="59.8" y="448.18" width="16.18" height="16.94" fill="#fdca7e"/>
<rect x="74.97" y="448.18" width="16.18" height="16.94" fill="#f8696b"/>
<rect x="105.33" y="448.18" width="16.18" height="16.94" fill="#f8696b"/>
<rect x="120.5" y="448.18" width="16.18" height="16.94" fill="#f8696b"/>
<rect x="181.21" y="448.18" width="16.18" height="16.94" fill="#f9796e"/>
<rect x="272.26" y="448.18" width="16.18" height="16.94" fill="#f8696b"/>
<rect x="287.44" y="448.18" width="16.18" height="16.94" fill="#f8696b"/>
<rect x="332.97" y="448.18" width="16.18" height="16.94" fill="#ece583"/>
<rect x="439.2" y="448.18" width="16.18" height="16.94" fill="#f8696b"/>
<rect x="575.78" y="448.18" width="16.18" height="16.94" fill="#f9796e"/>
<rect x="590.96" y="448.18" width="16.18" height="16.94" fill="#f8696b"/>
<rect x="621.31" y="448.18" width="16.18" height="16.94" fill="#fb9a74"/>
<rect x="651.66" y="448.18" width="16.18" height="16.94" fill="#f8696b"/>
<rect x="14.27" y="464.22" width="16.18" height="16.94" fill="#fdca7e"/>
<rect x="29.45" y="464.22" width="16.18" height="16.94" fill="#fcaa78"/>
<rect x="44.62" y="464.22" width="16.18" height="16.94" fill="#fcaa78"/>
<rect x="59.8" y="464.22" width="16.18" height="16.94" fill="#fb9a74"/>
<rect x="74.97" y="464.22" width="16.18" height="16.94" fill="#fcba7b"/>
<rect x="90.15" y="464.22" width="16.18" height="16.94" fill="#fb9a74"/>
<rect x="105.33" y="464.22" width="16.18" height="16.94" fill="#fcba7b"/>
<rect x="120.5" y="464.22" width="16.18" height="16.94" fill="#fdca7e"/>
<rect x="135.68" y="464.22" width="16.18" height="16.94" fill="#fa8a71"/>
<rect x="150.85" y="464.22" width="16.18" height="16.94" fill="#b1d480"/>
<rect x="166.03" y="464.22" width="16.18" height="16.94" fill="#fa8a71"/>
<rect x="181.21" y="464.22" width="16.18" height="16.94" fill="#f9796e"/>
<rect x="196.38" y="464.22" width="16.18" height="16.94" fill="#fb9a74"/>
<rect x="211.56" y="464.22" width="16.18" height="16.94" fill="#fcba7b"/>
<rect x="226.73" y="464.22" width="16.18" height="16.94" fill="#fcba7b"/>
<rect x="241.91" y="464.22" width="16.18" height="16.94" fill="#f8696b"/>
<rect x="272.26" y="464.22" width="16.18" height="16.94" fill="#fcba7b"/>
<rect x="302.61" y="464.22" width="16.18" height="16.94" fill="#f9796e"/>
<rect x="317.79" y="464.22" width="16.18" height="16.94" fill="#d8e082"/>
<rect x="332.97" y="464.22" width="16.18" height="16.94" fill="#fb9a74"/>
<rect x="363.32" y="464.22" width="16.18" height="16.94" fill="#9ecf7e"/>
<rect x="378.49" y="464.22" width="16.18" height="16.94" fill="#f8696b"/>
<rect x="393.67" y="464.22" width="16.18" height="16.94" fill="#fdca7e"/>
<rect x="408.85" y="464.22" width="16.18" height="16.94" fill="#f8696b"/>
<rect x="439.2" y="464.22" width="16.18" height="16.94" fill="#fcba7b"/>
<rect x="454.37" y="464.22" width="16.18" height="16.94" fill="#fcaa78"/>
<rect x="484.73" y="464.22" width="16.18" height="16.94" fill="#fcba7b"/>
<rect x="575.78" y="464.22" width="16.18" height="16.94" fill="#9ecf7e"/>
<rect x="590.96" y="464.22" width="16.18" height="16.94" fill="#f8696b"/>
<rect x="606.13" y="464.22" width="16.18" height="16.94" fill="#f8696b"/>
<rect x="636.49" y="464.22" width="16.18" height="16.94" fill="#f8696b"/>
<rect x="651.66" y="464.22" width="16.18" height="16.94" fill="#fcaa78"/>
<rect x="666.84" y="464.22" width="16.18" height="16.94" fill="#fedb81"/>
<rect x="682.01" y="464.22" width="16.18" height="16.94" fill="#f8696b"/>
<rect x="14.27" y="480.27" width="16.18" height="16.94" fill="#f9796e"/>
<rect x="29.45" y="480.27" width="16.18" height="16.94" fill="#fa8a71"/>
<rect x="59.8" y="480.27" width="16.18" height="16.94" fill="#ece583"/>
<rect x="105.33" y="480.27" width="16.18" height="16.94" fill="#f8696b"/>
<rect x="166.03" y="480.27" width="16.18" height="16.94" fill="#f8696b"/>
<rect x="181.21" y="480.27" width="16.18" height="16.94" fill="#f9796e"/>
<rect x="317.79" y="480.27" width="16.18" height="16.94" fill="#f8696b"/>
<rect x="575.78" y="480.27" width="16.18" height="16.94" fill="#fb9a74"/>
<rect x="590.96" y="480.27" width="16.18" height="16.94" fill="#f8696b"/>
<rect x="606.13" y="480.27" width="16.18" height="16.94" fill="#f8696b"/>
<rect x="621.31" y="480.27" width="16.18" height="16.94" fill="#fdca7e"/>
<rect x="636.49" y="480.27" width="16.18" height="16.94" fill="#f8696b"/>
<rect x="651.66" y="480.27" width="16.18" height="16.94" fill="#f8696b"/>
<rect x="14.27" y="496.31" width="16.18" height="16.94" fill="#f8696b"/>
<rect x="29.45" y="496.31" width="16.18" height="16.94" fill="#f8696b"/>
<rect x="44.62" y="496.31" width="16.18" height="16.94" fill="#fb9a74"/>
<rect x="120.5" y="496.31" width="16.18" height="16.94" fill="#d8e082"/>
<rect x="150.85" y="496.31" width="16.18" height="16.94" fill="#fa8a71"/>
<rect x="166.03" y="496.31" width="16.18" height="16.94" fill="#fa8a71"/>
<rect x="181.21" y="496.31" width="16.18" height="16.94" fill="#fa8a71"/>
<rect x="196.38" y="496.31" width="16.18" height="16.94" fill="#fa8a71"/>
<rect x="241.91" y="496.31" width="16.18" height="16.94" fill="#f8696b"/>
<rect x="272.26" y="496.31" width="16.18" height="16.94" fill="#f8696b"/>
<rect x="332.97" y="496.31" width="16.18" height="16.94" fill="#fdca7e"/>
<rect x="484.73" y="496.31" width="16.18" height="16.94" fill="#f8696b"/>
<rect x="575.78" y="496.31" width="16.18" height="16.94" fill="#f8696b"/>
<rect x="590.96" y="496.31" width="16.18" height="16.94" fill="#f8696b"/>
<rect x="606.13" y="496.31" width="16.18" height="16.94" fill="#fa8a71"/>
<rect x="621.31" y="496.31" width="16.18" height="16.94" fill="#fb9a74"/>
<rect x="636.49" y="496.31" width="16.18" height="16.94" fill="#f8696b"/>
<rect x="651.66" y="496.31" width="16.18" height="16.94" fill="#f8696b"/>
<rect x="666.84" y="496.31" width="16.18" height="16.94" fill="#f8696b"/>
<rect x="682.01" y="496.31" width="16.18" height="16.94" fill="#fedb81"/>
<rect x="29.45" y="512.36" width="16.18" height="16.94" fill="#f8696b"/>
<rect x="44.62" y="512.36" width="16.18" height="16.94" fill="#fb9a74"/>
<rect x="59.8" y="512.36" width="16.18" height="16.94" fill="#fcba7b"/>
<rect x="74.97" y="512.36" width="16.18" height="16.94" fill="#fcaa78"/>
<rect x="105.33" y="512.36" width="16.18" height="16.94" fill="#f8696b"/>
<rect x="120.5" y="512.36" width="16.18" height="16.94" fill="#f8696b"/>
<rect x="135.68" y="512.36" width="16.18" height="16.94" fill="#fcaa78"/>
<rect x="150.85" y="512.36" width="16.18" height="16.94" fill="#f8696b"/>
<rect x="166.03" y="512.36" width="16.18" height="16.94" fill="#f8696b"/>
<rect x="181.21" y="512.36" width="16.18" height="16.94" fill="#f8696b"/>
<rect x="196.38" y="512.36" width="16.18" height="16.94" fill="#f9796e"/>
<rect x="211.56" y="512.36" width="16.18" height="16.94" fill="#f8696b"/>
<rect x="241.91" y="512.36" width="16.18" height="16.94" fill="#f8696b"/>
<rect x="302.61" y="512.36" width="16.18" height="16.94" fill="#f8696b"/>
<rect x="439.2" y="512.36" width="16.18" height="16.94" fill="#f8696b"/>
<rect x="454.37" y="512.36" width="16.18" height="16.94" fill="#f8696b"/>
<rect x="499.9" y="512.36" width="16.18" height="16.94" fill="#f8696b"/>
<rect x="545.43" y="512.36" width="16.18" height="16.94" fill="#f8696b"/>
<rect x="575.78" y="512.36" width="16.18" height="16.94" fill="#f8696b"/>
<rect x="590.96" y="512.36" width="16.18" height="16.94" fill="#f8696b"/>
<rect x="621.31" y="512.36" width="16.18" height="16.94" fill="#f9796e"/>
<rect x="666.84" y="512.36" width="16.18" height="16.94" fill="#f8696b"/>
<rect x="14.27" y="528.4" width="16.18" height="16.94" fill="#f8696b"/>
<rect x="29.45" y="528.4" width="16.18" height="16.94" fill="#fa8a71"/>
<rect x="44.62" y="528.4" width="16.18" height="16.94" fill="#fa8a71"/>
<rect x="90.15" y="528.4" width="16.18" height="16.94" fill="#f8696b"/>
<rect x="105.33" y="528.4" width="16.18" height="16.94" fill="#f8696b"/>
<rect x="120.5" y="528.4" width="16.18" height="16.94" fill="#f8696b"/>
<rect x="166.03" y="528.4" width="16.18" height="16.94" fill="#f8696b"/>
<rect x="181.21" y="528.4" width="16.18" height="16.94" fill="#f8696b"/>
<rect x="287.44" y="528.4" width="16.18" height="16.94" fill="#f9796e"/>
<rect x="302.61" y="528.4" width="16.18" height="16.94" fill="#fa8a71"/>
<rect x="317.79" y="528.4" width="16.18" height="16.94" fill="#f8696b"/>
<rect x="332.97" y="528.4" width="16.18" height="16.94" fill="#fedb81"/>
<rect x="348.14" y="528.4" width="16.18" height="16.94" fill="#f8696b"/>
<rect x="393.67" y="528.4" width="16.18" height="16.94" fill="#f8696b"/>
<rect x="439.2" y="528.4" width="16.18" height="16.94" fill="#f8696b"/>
<rect x="499.9" y="528.4" width="16.18" height="16.94" fill="#f9796e"/>
<rect x="575.78" y="528.4" width="16.18" height="16.94" fill="#f9796e"/>
<rect x="590.96" y="528.4" width="16.18" height="16.94" fill="#f8696b"/>
<rect x="606.13" y="528.4" width="16.18" height="16.94" fill="#f8696b"/>
<rect x="621.31" y="528.4" width="16.18" height="16.94" fill="#fa8a71"/>
<rect x="651.66" y="528.4" width="16.18" height="16.94" fill="#f8696b"/>
<rect x="14.27" y="544.44" width="16.18" height="16.94" fill="#f8696b"/>
<rect x="29.45" y="544.44" width="16.18" height="16.94" fill="#9ecf7e"/>
<rect x="44.62" y="544.44" width="16.18" height="16.94" fill="#fb9a74"/>
<rect x="59.8" y="544.44" width="16.18" height="16.94" fill="#f8696b"/>
<rect x="74.97" y="544.44" width="16.18" height="16.94" fill="#f8696b"/>
<rect x="90.15" y="544.44" width="16.18" height="16.94" fill="#fedb81"/>
<rect x="105.33" y="544.44" width="16.18" height="16.94" fill="#fb9a74"/>
<rect x="120.5" y="544.44" width="16.18" height="16.94" fill="#f9796e"/>
<rect x="135.68" y="544.44" width="16.18" height="16.94" fill="#f8696b"/>
<rect x="150.85" y="544.44" width="16.18" height="16.94" fill="#f8696b"/>
<rect x="166.03" y="544.44" width="16.18" height="16.94" fill="#f8696b"/>
<rect x="181.21" y="544.44" width="16.18" height="16.94" fill="#f8696b"/>
<rect x="196.38" y="544.44" width="16.18" height="16.94" fill="#f8696b"/>
<rect x="211.56" y="544.44" width="16.18" height="16.94" fill="#fcaa78"/>
<rect x="226.73" y="544.44" width="16.18" height="16.94" fill="#fcaa78"/>
<rect x="287.44" y="544.44" width="16.18" height="16.94" fill="#fb9a74"/>
<rect x="302.61" y="544.44" width="16.18" height="16.94" fill="#f8696b"/>
<rect x="317.79" y="544.44" width="16.18" height="16.94" fill="#f8696b"/>
<rect x="332.97" y="544.44" width="16.18" height="16.94" fill="#fa8a71"/>
<rect x="393.67" y="544.44" width="16.18" height="16.94" fill="#f8696b"/>
<rect x="408.85" y="544.44" width="16.18" height="16.94" fill="#fa8a71"/>
<rect x="439.2" y="544.44" width="16.18" height="16.94" fill="#fdca7e"/>
<rect x="454.37" y="544.44" width="16.18" height="16.94" fill="#f8696b"/>
<rect x="469.55" y="544.44" width="16.18" height="16.94" fill="#f8696b"/>
<rect x="499.9" y="544.44" width="16.18" height="16.94" fill="#f8696b"/>
<rect x="515.08" y="544.44" width="16.18" height="16.94" fill="#f8696b"/>
<rect x="530.25" y="544.44" width="16.18" height="16.94" fill="#fb9a74"/>
<rect x="545.43" y="544.44" width="16.18" height="16.94" fill="#f8696b"/>
<rect x="575.78" y="544.44" width="16.18" height="16.94" fill="#f8696b"/>
<rect x="590.96" y="544.44" width="16.18" height="16.94" fill="#f8696b"/>
<rect x="606.13" y="544.44" width="16.18" height="16.94" fill="#f9796e"/>
<rect x="621.31" y="544.44" width="16.18" height="16.94" fill="#f9796e"/>
<rect x="651.66" y="544.44" width="16.18" height="16.94" fill="#f8696b"/>
<rect x="666.84" y="544.44" width="16.18" height="16.94" fill="#f8696b"/>
<rect x="682.01" y="544.44" width="16.18" height="16.94" fill="#f8696b"/>
<rect x="14.27" y="560.49" width="16.18" height="16.94" fill="#fb9a74"/>
<rect x="29.45" y="560.49" width="16.18" height="16.94" fill="#fcaa78"/>
<rect x="44.62" y="560.49" width="16.18" height="16.94" fill="#9ecf7e"/>
<rect x="120.5" y="560.49" width="16.18" height="16.94" fill="#f8696b"/>
<rect x="135.68" y="560.49" width="16.18" height="16.94" fill="#fdca7e"/>
<rect x="226.73" y="560.49" width="16.18" height="16.94" fill="#8ac97d"/>
<rect x="332.97" y="560.49" width="16.18" height="16.94" fill="#f9796e"/>
<rect x="393.67" y="560.49" width="16.18" height="16.94" fill="#fb9a74"/>
<rect x="469.55" y="560.49" width="16.18" height="16.94" fill="#f8696b"/>
<rect x="530.25" y="560.49" width="16.18" height="16.94" fill="#fcaa78"/>
<rect x="575.78" y="560.49" width="16.18" height="16.94" fill="#f9796e"/>
<rect x="682.01" y="560.49" width="16.18" height="16.94" fill="#f8696b"/>
<rect x="14.27" y="576.53" width="16.18" height="16.94" fill="#fcaa78"/>
<rect x="29.45" y="576.53" width="16.18" height="16.94" fill="#fa8a71"/>
<rect x="44.62" y="576.53" width="16.18" height="16.94" fill="#fa8a71"/>
<rect x="59.8" y="576.53" width="16.18" height="16.94" fill="#fb9a74"/>
<rect x="74.97" y="576.53" width="16.18" height="16.94" fill="#f9796e"/>
<rect x="90.15" y="576.53" width="16.18" height="16.94" fill="#fcaa78"/>
<rect x="105.33" y="576.53" width="16.18" height="16.94" fill="#fa8a71"/>
<rect x="120.5" y="576.53" width="16.18" height="16.94" fill="#f9796e"/>
<rect x="135.68" y="576.53" width="16.18" height="16.94" fill="#fcaa78"/>
<rect x="150.85" y="576.53" width="16.18" height="16.94" fill="#fcaa78"/>
<rect x="166.03" y="576.53" width="16.18" height="16.94" fill="#fa8a71"/>
<rect x="181.21" y="576.53" width="16.18" height="16.94" fill="#fa8a71"/>
<rect x="196.38" y="576.53" width="16.18" height="16.94" fill="#fb9a74"/>
<rect x="211.56" y="576.53" width="16.18" height="16.94" fill="#f9796e"/>
<rect x="226.73" y="576.53" width="16.18" height="16.94" fill="#f9796e"/>
<rect x="241.91" y="576.53" width="16.18" height="16.94" fill="#f9796e"/>
<rect x="257.09" y="576.53" width="16.18" height="16.94" fill="#fcaa78"/>
<rect x="272.26" y="576.53" width="16.18" height="16.94" fill="#f8696b"/>
<rect x="287.44" y="576.53" width="16.18" height="16.94" fill="#f9796e"/>
<rect x="302.61" y="576.53" width="16.18" height="16.94" fill="#f9796e"/>
<rect x="317.79" y="576.53" width="16.18" height="16.94" fill="#fa8a71"/>
<rect x="332.97" y="576.53" width="16.18" height="16.94" fill="#fa8a71"/>
<rect x="348.14" y="576.53" width="16.18" height="16.94" fill="#fcaa78"/>
<rect x="363.32" y="576.53" width="16.18" height="16.94" fill="#f9796e"/>
<rect x="378.49" y="576.53" width="16.18" height="16.94" fill="#fcaa78"/>
<rect x="393.67" y="576.53" width="16.18" height="16.94" fill="#fedb81"/>
<rect x="408.85" y="576.53" width="16.18" height="16.94" fill="#fcba7b"/>
<rect x="424.02" y="576.53" width="16.18" height="16.94" fill="#fa8a71"/>
<rect x="439.2" y="576.53" width="16.18" height="16.94" fill="#fb9a74"/>
<rect x="454.37" y="576.53" width="16.18" height="16.94" fill="#fa8a71"/>
<rect x="469.55" y="576.53" width="16.18" height="16.94" fill="#fa8a71"/>
<rect x="484.73" y="576.53" width="16.18" height="16.94" fill="#f9796e"/>
<rect x="499.9" y="576.53" width="16.18" height="16.94" fill="#fa8a71"/>
<rect x="515.08" y="576.53" width="16.18" height="16.94" fill="#f8696b"/>
<rect x="530.25" y="576.53" width="16.18" height="16.94" fill="#f8696b"/>
<rect x="545.43" y="576.53" width="16.18" height="16.94" fill="#f8696b"/>
<rect x="575.78" y="576.53" width="16.18" height="16.94" fill="#fa8a71"/>
<rect x="590.96" y="576.53" width="16.18" height="16.94" fill="#fcaa78"/>
<rect x="606.13" y="576.53" width="16.18" height="16.94" fill="#fa8a71"/>
<rect x="621.31" y="576.53" width="16.18" height="16.94" fill="#f8696b"/>
<rect x="636.49" y="576.53" width="16.18" height="16.94" fill="#f9796e"/>
<rect x="651.66" y="576.53" width="16.18" height="16.94" fill="#f8696b"/>
<rect x="666.84" y="576.53" width="16.18" height="16.94" fill="#f8696b"/>
<rect x="682.01" y="576.53" width="16.18" height="16.94" fill="#f8696b"/>
<rect x="14.27" y="592.58" width="16.18" height="16.94" fill="#f8696b"/>
<rect x="29.45" y="592.58" width="16.18" height="16.94" fill="#8ac97d"/>
<rect x="44.62" y="592.58" width="16.18" height="16.94" fill="#fcaa78"/>
<rect x="59.8" y="592.58" width="16.18" height="16.94" fill="#c4da81"/>
<rect x="74.97" y="592.58" width="16.18" height="16.94" fill="#f9796e"/>
<rect x="90.15" y="592.58" width="16.18" height="16.94" fill="#fedb81"/>
<rect x="105.33" y="592.58" width="16.18" height="16.94" fill="#fa8a71"/>
<rect x="120.5" y="592.58" width="16.18" height="16.94" fill="#f9796e"/>
<rect x="135.68" y="592.58" width="16.18" height="16.94" fill="#fa8a71"/>
<rect x="150.85" y="592.58" width="16.18" height="16.94" fill="#fa8a71"/>
<rect x="166.03" y="592.58" width="16.18" height="16.94" fill="#f8696b"/>
<rect x="181.21" y="592.58" width="16.18" height="16.94" fill="#f9796e"/>
<rect x="196.38" y="592.58" width="16.18" height="16.94" fill="#fcba7b"/>
<rect x="211.56" y="592.58" width="16.18" height="16.94" fill="#f9796e"/>
<rect x="226.73" y="592.58" width="16.18" height="16.94" fill="#fa8a71"/>
<rect x="241.91" y="592.58" width="16.18" height="16.94" fill="#f8696b"/>
<rect x="257.09" y="592.58" width="16.18" height="16.94" fill="#fedb81"/>
<rect x="272.26" y="592.58" width="16.18" height="16.94" fill="#f9796e"/>
<rect x="287.44" y="592.58" width="16.18" height="16.94" fill="#f9796e"/>
<rect x="302.61" y="592.58" width="16.18" height="16.94" fill="#f9796e"/>
<rect x="317.79" y="592.58" width="16.18" height="16.94" fill="#fcba7b"/>
<rect x="332.97" y="592.58" width="16.18" height="16.94" fill="#fa8a71"/>
<rect x="348.14" y="592.58" width="16.18" height="16.94" fill="#fb9a74"/>
<rect x="363.32" y="592.58" width="16.18" height="16.94" fill="#f8696b"/>
<rect x="378.49" y="592.58" width="16.18" height="16.94" fill="#f8696b"/>
<rect x="393.67" y="592.58" width="16.18" height="16.94" fill="#fa8a71"/>
<rect x="408.85" y="592.58" width="16.18" height="16.94" fill="#fedb81"/>
<rect x="424.02" y="592.58" width="16.18" height="16.94" fill="#76c47c"/>
<rect x="439.2" y="592.58" width="16.18" height="16.94" fill="#fa8a71"/>
<rect x="454.37" y="592.58" width="16.18" height="16.94" fill="#d8e082"/>
<rect x="469.55" y="592.58" width="16.18" height="16.94" fill="#b1d480"/>
<rect x="484.73" y="592.58" width="16.18" height="16.94" fill="#fa8a71"/>
<rect x="499.9" y="592.58" width="16.18" height="16.94" fill="#fa8a71"/>
<rect x="515.08" y="592.58" width="16.18" height="16.94" fill="#f8696b"/>
<rect x="530.25" y="592.58" width="16.18" height="16.94" fill="#f8696b"/>
<rect x="545.43" y="592.58" width="16.18" height="16.94" fill="#f8696b"/>
<rect x="575.78" y="592.58" width="16.18" height="16.94" fill="#fdca7e"/>
<rect x="590.96" y="592.58" width="16.18" height="16.94" fill="#fa8a71"/>
<rect x="606.13" y="592.58" width="16.18" height="16.94" fill="#fa8a71"/>
<rect x="621.31" y="592.58" width="16.18" height="16.94" fill="#fa8a71"/>
<rect x="636.49" y="592.58" width="16.18" height="16.94" fill="#f8696b"/>
<rect x="651.66" y="592.58" width="16.18" height="16.94" fill="#f8696b"/>
<rect x="666.84" y="592.58" width="16.18" height="16.94" fill="#f8696b"/>
<rect x="682.01" y="592.58" width="16.18" height="16.94" fill="#f8696b"/>
<rect x="14.27" y="608.62" width="16.18" height="16.94" fill="#c4da81"/>
<rect x="29.45" y="608.62" width="16.18" height="16.94" fill="#fa8a71"/>
<rect x="44.62" y="608.62" width="16.18" height="16.94" fill="#fa8a71"/>
<rect x="59.8" y="608.62" width="16.18" height="16.94" fill="#f8696b"/>
<rect x="74.97" y="608.62" width="16.18" height="16.94" fill="#ece583"/>
<rect x="90.15" y="608.62" width="16.18" height="16.94" fill="#fcaa78"/>
<rect x="105.33" y="608.62" width="16.18" height="16.94" fill="#fcba7b"/>
<rect x="120.5" y="608.62" width="16.18" height="16.94" fill="#f8696b"/>
<rect x="135.68" y="608.62" width="16.18" height="16.94" fill="#fa8a71"/>
<rect x="150.85" y="608.62" width="16.18" height="16.94" fill="#fa8a71"/>
<rect x="166.03" y="608.62" width="16.18" height="16.94" fill="#f8696b"/>
<rect x="181.21" y="608.62" width="16.18" height="16.94" fill="#f8696b"/>
<rect x="196.38" y="608.62" width="16.18" height="16.94" fill="#f9796e"/>
<rect x="211.56" y="608.62" width="16.18" height="16.94" fill="#fcba7b"/>
<rect x="226.73" y="608.62" width="16.18" height="16.94" fill="#f8696b"/>
<rect x="241.91" y="608.62" width="16.18" height="16.94" fill="#fa8a71"/>
<rect x="257.09" y="608.62" width="16.18" height="16.94" fill="#f8696b"/>
<rect x="272.26" y="608.62" width="16.18" height="16.94" fill="#fa8a71"/>
<rect x="287.44" y="608.62" width="16.18" height="16.94" fill="#fa8a71"/>
<rect x="302.61" y="608.62" width="16.18" height="16.94" fill="#fa8a71"/>
<rect x="317.79" y="608.62" width="16.18" height="16.94" fill="#f8696b"/>
<rect x="332.97" y="608.62" width="16.18" height="16.94" fill="#f8696b"/>
<rect x="348.14" y="608.62" width="16.18" height="16.94" fill="#fa8a71"/>
<rect x="363.32" y="608.62" width="16.18" height="16.94" fill="#f8696b"/>
<rect x="378.49" y="608.62" width="16.18" height="16.94" fill="#f9796e"/>
<rect x="393.67" y="608.62" width="16.18" height="16.94" fill="#f9796e"/>
<rect x="408.85" y="608.62" width="16.18" height="16.94" fill="#f8696b"/>
<rect x="424.02" y="608.62" width="16.18" height="16.94" fill="#f8696b"/>
<rect x="439.2" y="608.62" width="16.18" height="16.94" fill="#ffeb84"/>
<rect x="454.37" y="608.62" width="16.18" height="16.94" fill="#fcaa78"/>
<rect x="469.55" y="608.62" width="16.18" height="16.94" fill="#f8696b"/>
<rect x="484.73" y="608.62" width="16.18" height="16.94" fill="#fb9a74"/>
<rect x="499.9" y="608.62" width="16.18" height="16.94" fill="#f8696b"/>
<rect x="515.08" y="608.62" width="16.18" height="16.94" fill="#fa8a71"/>
<rect x="530.25" y="608.62" width="16.18" height="16.94" fill="#f9796e"/>
<rect x="545.43" y="608.62" width="16.18" height="16.94" fill="#f8696b"/>
<rect x="575.78" y="608.62" width="16.18" height="16.94" fill="#f8696b"/>
<rect x="590.96" y="608.62" width="16.18" height="16.94" fill="#fb9a74"/>
<rect x="606.13" y="608.62" width="16.18" height="16.94" fill="#fb9a74"/>
<rect x="621.31" y="608.62" width="16.18" height="16.94" fill="#fa8a71"/>
<rect x="636.49" y="608.62" width="16.18" height="16.94" fill="#f8696b"/>
<rect x="651.66" y="608.62" width="16.18" height="16.94" fill="#f8696b"/>
<rect x="666.84" y="608.62" width="16.18" height="16.94" fill="#fb9a74"/>
<rect x="682.01" y="608.62" width="16.18" height="16.94" fill="#f8696b"/>
<rect x="257.09" y="624.66" width="16.18" height="16.94" fill="#f8696b"/>
<rect x="348.14" y="624.66" width="16.18" height="16.94" fill="#fdca7e"/>
<rect x="515.08" y="624.66" width="16.18" height="16.94" fill="#f8696b"/>
<rect x="29.45" y="640.71" width="16.18" height="16.94" fill="#fedb81"/>
<rect x="105.33" y="640.71" width="16.18" height="16.94" fill="#d8e082"/>
<rect x="120.5" y="640.71" width="16.18" height="16.94" fill="#c4da81"/>
<rect x="135.68" y="640.71" width="16.18" height="16.94" fill="#fdca7e"/>
<rect x="150.85" y="640.71" width="16.18" height="16.94" fill="#fdca7e"/>
<rect x="241.91" y="640.71" width="16.18" height="16.94" fill="#d8e082"/>
<rect x="302.61" y="640.71" width="16.18" height="16.94" fill="#fcba7b"/>
<rect x="332.97" y="640.71" width="16.18" height="16.94" fill="#f9796e"/>
<rect x="348.14" y="640.71" width="16.18" height="16.94" fill="#fcba7b"/>
<rect x="408.85" y="640.71" width="16.18" height="16.94" fill="#f8696b"/>
<rect x="424.02" y="640.71" width="16.18" height="16.94" fill="#f8696b"/>
<rect x="439.2" y="640.71" width="16.18" height="16.94" fill="#fdca7e"/>
<rect x="454.37" y="640.71" width="16.18" height="16.94" fill="#f8696b"/>
<rect x="484.73" y="640.71" width="16.18" height="16.94" fill="#f8696b"/>
<rect x="499.9" y="640.71" width="16.18" height="16.94" fill="#fcaa78"/>
<rect x="515.08" y="640.71" width="16.18" height="16.94" fill="#fcba7b"/>
<rect x="545.43" y="640.71" width="16.18" height="16.94" fill="#f8696b"/>
<rect x="590.96" y="640.71" width="16.18" height="16.94" fill="#ece583"/>
<rect x="606.13" y="640.71" width="16.18" height="16.94" fill="#76c47c"/>
<rect x="636.49" y="640.71" width="16.18" height="16.94" fill="#fcaa78"/>
<rect x="666.84" y="640.71" width="16.18" height="16.94" fill="#fdca7e"/>
<rect x="44.62" y="656.75" width="16.18" height="16.94" fill="#fdca7e"/>
<rect x="59.8" y="656.75" width="16.18" height="16.94" fill="#ece583"/>
<rect x="120.5" y="656.75" width="16.18" height="16.94" fill="#9ecf7e"/>
<rect x="135.68" y="656.75" width="16.18" height="16.94" fill="#ffeb84"/>
<rect x="150.85" y="656.75" width="16.18" height="16.94" fill="#d8e082"/>
<rect x="241.91" y="656.75" width="16.18" height="16.94" fill="#d8e082"/>
<rect x="257.09" y="656.75" width="16.18" height="16.94" fill="#f8696b"/>
<rect x="332.97" y="656.75" width="16.18" height="16.94" fill="#c4da81"/>
<rect x="348.14" y="656.75" width="16.18" height="16.94" fill="#c4da81"/>
<rect x="363.32" y="656.75" width="16.18" height="16.94" fill="#d8e082"/>
<rect x="378.49" y="656.75" width="16.18" height="16.94" fill="#f8696b"/>
<rect x="393.67" y="656.75" width="16.18" height="16.94" fill="#fedb81"/>
<rect x="408.85" y="656.75" width="16.18" height="16.94" fill="#c4da81"/>
<rect x="439.2" y="656.75" width="16.18" height="16.94" fill="#fdca7e"/>
<rect x="484.73" y="656.75" width="16.18" height="16.94" fill="#c4da81"/>
<rect x="499.9" y="656.75" width="16.18" height="16.94" fill="#9ecf7e"/>
<rect x="515.08" y="656.75" width="16.18" height="16.94" fill="#ece583"/>
<rect x="530.25" y="656.75" width="16.18" height="16.94" fill="#f9796e"/>
<rect x="545.43" y="656.75" width="16.18" height="16.94" fill="#9ecf7e"/>
<rect x="560.61" y="656.75" width="16.18" height="16.94" fill="#9ecf7e"/>
<rect x="590.96" y="656.75" width="16.18" height="16.94" fill="#f8696b"/>
<rect x="621.31" y="656.75" width="16.18" height="16.94" fill="#ece583"/>
<rect x="636.49" y="656.75" width="16.18" height="16.94" fill="#fdca7e"/>
<rect x="651.66" y="656.75" width="16.18" height="16.94" fill="#fdca7e"/>
<rect x="682.01" y="656.75" width="16.18" height="16.94" fill="#d8e082"/>
<rect x="14.27" y="672.8" width="16.18" height="16.94" fill="#9ecf7e"/>
<rect x="59.8" y="672.8" width="16.18" height="16.94" fill="#9ecf7e"/>
<rect x="74.97" y="672.8" width="16.18" height="16.94" fill="#c4da81"/>
<rect x="90.15" y="672.8" width="16.18" height="16.94" fill="#d8e082"/>
<rect x="105.33" y="672.8" width="16.18" height="16.94" fill="#d8e082"/>
<rect x="120.5" y="672.8" width="16.18" height="16.94" fill="#c4da81"/>
<rect x="135.68" y="672.8" width="16.18" height="16.94" fill="#c4da81"/>
<rect x="150.85" y="672.8" width="16.18" height="16.94" fill="#d8e082"/>
<rect x="226.73" y="672.8" width="16.18" height="16.94" fill="#8ac97d"/>
<rect x="241.91" y="672.8" width="16.18" height="16.94" fill="#fdca7e"/>
<rect x="272.26" y="672.8" width="16.18" height="16.94" fill="#9ecf7e"/>
<rect x="317.79" y="672.8" width="16.18" height="16.94" fill="#fdca7e"/>
<rect x="332.97" y="672.8" width="16.18" height="16.94" fill="#fedb81"/>
<rect x="348.14" y="672.8" width="16.18" height="16.94" fill="#76c47c"/>
<rect x="363.32" y="672.8" width="16.18" height="16.94" fill="#fedb81"/>
<rect x="378.49" y="672.8" width="16.18" height="16.94" fill="#76c47c"/>
<rect x="393.67" y="672.8" width="16.18" height="16.94" fill="#d8e082"/>
<rect x="408.85" y="672.8" width="16.18" height="16.94" fill="#9ecf7e"/>
<rect x="439.2" y="672.8" width="16.18" height="16.94" fill="#ece583"/>
<rect x="484.73" y="672.8" width="16.18" height="16.94" fill="#f9796e"/>
<rect x="499.9" y="672.8" width="16.18" height="16.94" fill="#fedb81"/>
<rect x="515.08" y="672.8" width="16.18" height="16.94" fill="#d8e082"/>
<rect x="545.43" y="672.8" width="16.18" height="16.94" fill="#ece583"/>
<rect x="560.61" y="672.8" width="16.18" height="16.94" fill="#fdca7e"/>
<rect x="575.78" y="672.8" width="16.18" height="16.94" fill="#6fc17c"/>
<rect x="606.13" y="672.8" width="16.18" height="16.94" fill="#76c47c"/>
<rect x="621.31" y="672.8" width="16.18" height="16.94" fill="#f9796e"/>
<rect x="636.49" y="672.8" width="16.18" height="16.94" fill="#b1d480"/>
<rect x="651.66" y="672.8" width="16.18" height="16.94" fill="#ece583"/>
<rect x="682.01" y="672.8" width="16.18" height="16.94" fill="#d8e082"/>
<rect x="29.45" y="688.84" width="16.18" height="16.94" fill="#76c47c"/>
<rect x="59.8" y="688.84" width="16.18" height="16.94" fill="#d8e082"/>
<rect x="166.03" y="688.84" width="16.18" height="16.94" fill="#76c47c"/>
<rect x="439.2" y="688.84" width="16.18" height="16.94" fill="#d8e082"/>
<rect x="454.37" y="688.84" width="16.18" height="16.94" fill="#f8696b"/>
<rect x="469.55" y="688.84" width="16.18" height="16.94" fill="#fdca7e"/>
<rect x="484.73" y="688.84" width="16.18" height="16.94" fill="#fcaa78"/>
<rect x="499.9" y="688.84" width="16.18" height="16.94" fill="#6fc17c"/>
<rect x="545.43" y="688.84" width="16.18" height="16.94" fill="#ffeb84"/>
<rect x="575.78" y="688.84" width="16.18" height="16.94" fill="#6fc17c"/>
<rect x="666.84" y="688.84" width="16.18" height="16.94" fill="#c4da81"/>
<rect x="14.27" y="704.88" width="16.18" height="16.94" fill="#fcba7b"/>
<rect x="44.62" y="704.88" width="16.18" height="16.94" fill="#9ecf7e"/>
<rect x="59.8" y="704.88" width="16.18" height="16.94" fill="#ffeb84"/>
<rect x="90.15" y="704.88" width="16.18" height="16.94" fill="#ffeb84"/>
<rect x="105.33" y="704.88" width="16.18" height="16.94" fill="#fdca7e"/>
<rect x="135.68" y="704.88" width="16.18" height="16.94" fill="#fcaa78"/>
<rect x="150.85" y="704.88" width="16.18" height="16.94" fill="#fdca7e"/>
<rect x="226.73" y="704.88" width="16.18" height="16.94" fill="#c4da81"/>
<rect x="241.91" y="704.88" width="16.18" height="16.94" fill="#fcaa78"/>
<rect x="257.09" y="704.88" width="16.18" height="16.94" fill="#ece583"/>
<rect x="272.26" y="704.88" width="16.18" height="16.94" fill="#fedb81"/>
<rect x="287.44" y="704.88" width="16.18" height="16.94" fill="#fcba7b"/>
<rect x="302.61" y="704.88" width="16.18" height="16.94" fill="#fdca7e"/>
<rect x="317.79" y="704.88" width="16.18" height="16.94" fill="#c4da81"/>
<rect x="332.97" y="704.88" width="16.18" height="16.94" fill="#fedb81"/>
<rect x="348.14" y="704.88" width="16.18" height="16.94" fill="#fedb81"/>
<rect x="363.32" y="704.88" width="16.18" height="16.94" fill="#fdca7e"/>
<rect x="378.49" y="704.88" width="16.18" height="16.94" fill="#ffeb84"/>
<rect x="424.02" y="704.88" width="16.18" height="16.94" fill="#ece583"/>
<rect x="439.2" y="704.88" width="16.18" height="16.94" fill="#fdca7e"/>
<rect x="454.37" y="704.88" width="16.18" height="16.94" fill="#f8696b"/>
<rect x="469.55" y="704.88" width="16.18" height="16.94" fill="#fcba7b"/>
<rect x="484.73" y="704.88" width="16.18" height="16.94" fill="#fcaa78"/>
<rect x="499.9" y="704.88" width="16.18" height="16.94" fill="#8ac97d"/>
<rect x="530.25" y="704.88" width="16.18" height="16.94" fill="#fcba7b"/>
<rect x="545.43" y="704.88" width="16.18" height="16.94" fill="#ffeb84"/>
<rect x="560.61" y="704.88" width="16.18" height="16.94" fill="#fdca7e"/>
<rect x="575.78" y="704.88" width="16.18" height="16.94" fill="#fdca7e"/>
<rect x="606.13" y="704.88" width="16.18" height="16.94" fill="#d8e082"/>
<rect x="621.31" y="704.88" width="16.18" height="16.94" fill="#d8e082"/>
<rect x="636.49" y="704.88" width="16.18" height="16.94" fill="#8ac97d"/>
<rect x="666.84" y="704.88" width="16.18" height="16.94" fill="#f8696b"/>
<rect x="14.97" y="126.8" width="670.03" height="1.1" fill="#1a1a1a"/>
<text transform="translate(12.0,129.3) rotate(-90) scale(0.73,1)" font-size="16" text-anchor="end" fill="#000" stroke="#000" stroke-width="0.2">44</text>
<text transform="translate(12.0,145.34) rotate(-90) scale(0.73,1)" font-size="16" text-anchor="end" fill="#000" stroke="#000" stroke-width="0.2">43</text>
<text transform="translate(12.0,161.39) rotate(-90) scale(0.73,1)" font-size="16" text-anchor="end" fill="#000" stroke="#000" stroke-width="0.2">42</text>
<text transform="translate(12.0,177.43) rotate(-90) scale(0.73,1)" font-size="16" text-anchor="end" fill="#000" stroke="#000" stroke-width="0.2">41</text>
<text transform="translate(12.0,193.48) rotate(-90) scale(0.73,1)" font-size="16" text-anchor="end" fill="#000" stroke="#000" stroke-width="0.2">40</text>
<text transform="translate(12.0,209.52) rotate(-90) scale(0.73,1)" font-size="16" text-anchor="end" fill="#000" stroke="#000" stroke-width="0.2">39</text>
<text transform="translate(12.0,225.56) rotate(-90) scale(0.73,1)" font-size="16" text-anchor="end" fill="#000" stroke="#000" stroke-width="0.2">38</text>
<text transform="translate(12.0,241.61) rotate(-90) scale(0.73,1)" font-size="16" text-anchor="end" fill="#000" stroke="#000" stroke-width="0.2">37</text>
<text transform="translate(12.0,257.65) rotate(-90) scale(0.73,1)" font-size="16" text-anchor="end" fill="#000" stroke="#000" stroke-width="0.2">36</text>
<text transform="translate(12.0,273.7) rotate(-90) scale(0.73,1)" font-size="16" text-anchor="end" fill="#000" stroke="#000" stroke-width="0.2">35</text>
<text transform="translate(12.0,289.74) rotate(-90) scale(0.73,1)" font-size="16" text-anchor="end" fill="#000" stroke="#000" stroke-width="0.2">34</text>
<text transform="translate(12.0,305.78) rotate(-90) scale(0.73,1)" font-size="16" text-anchor="end" fill="#000" stroke="#000" stroke-width="0.2">33</text>
<text transform="translate(12.0,321.83) rotate(-90) scale(0.73,1)" font-size="16" text-anchor="end" fill="#000" stroke="#000" stroke-width="0.2">32</text>
<text transform="translate(12.0,337.87) rotate(-90) scale(0.73,1)" font-size="16" text-anchor="end" fill="#000" stroke="#000" stroke-width="0.2">31</text>
<text transform="translate(12.0,353.92) rotate(-90) scale(0.73,1)" font-size="16" text-anchor="end" fill="#000" stroke="#000" stroke-width="0.2">29</text>
<text transform="translate(12.0,369.96) rotate(-90) scale(0.73,1)" font-size="16" text-anchor="end" fill="#000" stroke="#000" stroke-width="0.2">28</text>
<text transform="translate(12.0,386) rotate(-90) scale(0.73,1)" font-size="16" text-anchor="end" fill="#000" stroke="#000" stroke-width="0.2">27</text>
<text transform="translate(12.0,402.05) rotate(-90) scale(0.73,1)" font-size="16" text-anchor="end" fill="#000" stroke="#000" stroke-width="0.2">26</text>
<text transform="translate(12.0,418.09) rotate(-90) scale(0.73,1)" font-size="16" text-anchor="end" fill="#000" stroke="#000" stroke-width="0.2">25</text>
<text transform="translate(12.0,434.14) rotate(-90) scale(0.73,1)" font-size="16" text-anchor="end" fill="#000" stroke="#000" stroke-width="0.2">24</text>
<text transform="translate(12.0,450.18) rotate(-90) scale(0.73,1)" font-size="16" text-anchor="end" fill="#000" stroke="#000" stroke-width="0.2">23</text>
<text transform="translate(12.0,466.22) rotate(-90) scale(0.73,1)" font-size="16" text-anchor="end" fill="#000" stroke="#000" stroke-width="0.2">22</text>
<text transform="translate(12.0,482.27) rotate(-90) scale(0.73,1)" font-size="16" text-anchor="end" fill="#000" stroke="#000" stroke-width="0.2">21</text>
<text transform="translate(12.0,498.31) rotate(-90) scale(0.73,1)" font-size="16" text-anchor="end" fill="#000" stroke="#000" stroke-width="0.2">20</text>
<text transform="translate(12.0,514.36) rotate(-90) scale(0.73,1)" font-size="16" text-anchor="end" fill="#000" stroke="#000" stroke-width="0.2">19</text>
<text transform="translate(12.0,530.4) rotate(-90) scale(0.73,1)" font-size="16" text-anchor="end" fill="#000" stroke="#000" stroke-width="0.2">18</text>
<text transform="translate(12.0,546.44) rotate(-90) scale(0.73,1)" font-size="16" text-anchor="end" fill="#000" stroke="#000" stroke-width="0.2">17</text>
<text transform="translate(12.0,562.49) rotate(-90) scale(0.73,1)" font-size="16" text-anchor="end" fill="#000" stroke="#000" stroke-width="0.2">16</text>
<text transform="translate(12.0,578.53) rotate(-90) scale(0.73,1)" font-size="16" text-anchor="end" fill="#000" stroke="#000" stroke-width="0.2">15</text>
<text transform="translate(12.0,594.58) rotate(-90) scale(0.73,1)" font-size="16" text-anchor="end" fill="#000" stroke="#000" stroke-width="0.2">14</text>
<text transform="translate(12.0,610.62) rotate(-90) scale(0.73,1)" font-size="16" text-anchor="end" fill="#000" stroke="#000" stroke-width="0.2">13</text>
<text transform="translate(12.0,626.66) rotate(-90) scale(0.73,1)" font-size="16" text-anchor="end" fill="#000" stroke="#000" stroke-width="0.2">12</text>
<text transform="translate(12.0,642.71) rotate(-90) scale(0.73,1)" font-size="16" text-anchor="end" fill="#000" stroke="#000" stroke-width="0.2">11</text>
<text transform="translate(12.0,658.75) rotate(-90) scale(0.73,1)" font-size="16" text-anchor="end" fill="#000" stroke="#000" stroke-width="0.2">10</text>
<text transform="translate(12.0,674.8) rotate(-90) scale(0.73,1)" font-size="16" text-anchor="end" fill="#000" stroke="#000" stroke-width="0.2">9</text>
<text transform="translate(12.0,690.84) rotate(-90) scale(0.73,1)" font-size="16" text-anchor="end" fill="#000" stroke="#000" stroke-width="0.2">8</text>
<text transform="translate(12.0,706.88) rotate(-90) scale(0.73,1)" font-size="16" text-anchor="end" fill="#000" stroke="#000" stroke-width="0.2">7</text>
<circle cx="682.6" cy="737.0" r="0.75" fill="#111"/>
<circle cx="682.6" cy="739.6" r="0.75" fill="#111"/>
<circle cx="682.6" cy="742.2" r="0.75" fill="#111"/>
<text transform="translate(27.36,747.3) rotate(-90) scale(0.73,1)" font-size="16" fill="#000" stroke="#000" stroke-width="0.2">C1</text>
<text transform="translate(42.53,747.3) rotate(-90) scale(0.73,1)" font-size="16" fill="#000" stroke="#000" stroke-width="0.2">C2</text>
<text transform="translate(57.71,747.3) rotate(-90) scale(0.73,1)" font-size="16" fill="#000" stroke="#000" stroke-width="0.2">C3</text>
<text transform="translate(72.89,747.3) rotate(-90) scale(0.73,1)" font-size="16" fill="#000" stroke="#000" stroke-width="0.2">C4</text>
<text transform="translate(88.06,747.3) rotate(-90) scale(0.73,1)" font-size="16" fill="#000" stroke="#000" stroke-width="0.2">C5</text>
<text transform="translate(103.24,747.3) rotate(-90) scale(0.73,1)" font-size="16" fill="#000" stroke="#000" stroke-width="0.2">C6</text>
<text transform="translate(118.41,747.3) rotate(-90) scale(0.73,1)" font-size="16" fill="#000" stroke="#000" stroke-width="0.2">C7</text>
<text transform="translate(133.59,747.3) rotate(-90) scale(0.73,1)" font-size="16" fill="#000" stroke="#000" stroke-width="0.2">C8</text>
<text transform="translate(148.77,747.3) rotate(-90) scale(0.73,1)" font-size="16" fill="#000" stroke="#000" stroke-width="0.2">C9</text>
<text transform="translate(163.94,747.3) rotate(-90) scale(0.73,1)" font-size="16" fill="#000" stroke="#000" stroke-width="0.2">C10</text>
<text transform="translate(179.12,747.3) rotate(-90) scale(0.73,1)" font-size="16" fill="#000" stroke="#000" stroke-width="0.2">C11</text>
<text transform="translate(194.29,747.3) rotate(-90) scale(0.73,1)" font-size="16" fill="#000" stroke="#000" stroke-width="0.2">C12</text>
<text transform="translate(209.47,747.3) rotate(-90) scale(0.73,1)" font-size="16" fill="#000" stroke="#000" stroke-width="0.2">C13</text>
<text transform="translate(224.65,747.3) rotate(-90) scale(0.73,1)" font-size="16" fill="#000" stroke="#000" stroke-width="0.2">C14</text>
<text transform="translate(239.82,747.3) rotate(-90) scale(0.73,1)" font-size="16" fill="#000" stroke="#000" stroke-width="0.2">C15</text>
<text transform="translate(255,747.3) rotate(-90) scale(0.73,1)" font-size="16" fill="#000" stroke="#000" stroke-width="0.2">C16</text>
<text transform="translate(270.17,747.3) rotate(-90) scale(0.73,1)" font-size="16" fill="#000" stroke="#000" stroke-width="0.2">C17</text>
<text transform="translate(285.35,747.3) rotate(-90) scale(0.73,1)" font-size="16" fill="#000" stroke="#000" stroke-width="0.2">C18</text>
<text transform="translate(300.53,747.3) rotate(-90) scale(0.73,1)" font-size="16" fill="#000" stroke="#000" stroke-width="0.2">C19</text>
<text transform="translate(315.7,747.3) rotate(-90) scale(0.73,1)" font-size="16" fill="#000" stroke="#000" stroke-width="0.2">C20</text>
<text transform="translate(330.88,747.3) rotate(-90) scale(0.73,1)" font-size="16" fill="#000" stroke="#000" stroke-width="0.2">C21</text>
<text transform="translate(346.05,747.3) rotate(-90) scale(0.73,1)" font-size="16" fill="#000" stroke="#000" stroke-width="0.2">C22</text>
<text transform="translate(361.23,747.3) rotate(-90) scale(0.73,1)" font-size="16" fill="#000" stroke="#000" stroke-width="0.2">C23</text>
<text transform="translate(376.41,747.3) rotate(-90) scale(0.73,1)" font-size="16" fill="#000" stroke="#000" stroke-width="0.2">C24</text>
<text transform="translate(391.58,747.3) rotate(-90) scale(0.73,1)" font-size="16" fill="#000" stroke="#000" stroke-width="0.2">C25</text>
<text transform="translate(406.76,747.3) rotate(-90) scale(0.73,1)" font-size="16" fill="#000" stroke="#000" stroke-width="0.2">C26</text>
<text transform="translate(421.93,747.3) rotate(-90) scale(0.73,1)" font-size="16" fill="#000" stroke="#000" stroke-width="0.2">C27</text>
<text transform="translate(437.11,747.3) rotate(-90) scale(0.73,1)" font-size="16" fill="#000" stroke="#000" stroke-width="0.2">C28</text>
<text transform="translate(452.29,747.3) rotate(-90) scale(0.73,1)" font-size="16" fill="#000" stroke="#000" stroke-width="0.2">C29</text>
<text transform="translate(467.46,747.3) rotate(-90) scale(0.73,1)" font-size="16" fill="#000" stroke="#000" stroke-width="0.2">C30</text>
<text transform="translate(482.64,747.3) rotate(-90) scale(0.73,1)" font-size="16" fill="#000" stroke="#000" stroke-width="0.2">C31</text>
<text transform="translate(497.81,747.3) rotate(-90) scale(0.73,1)" font-size="16" fill="#000" stroke="#000" stroke-width="0.2">C32</text>
<text transform="translate(512.99,747.3) rotate(-90) scale(0.73,1)" font-size="16" fill="#000" stroke="#000" stroke-width="0.2">C33</text>
<text transform="translate(528.17,747.3) rotate(-90) scale(0.73,1)" font-size="16" fill="#000" stroke="#000" stroke-width="0.2">C34</text>
<text transform="translate(543.34,747.3) rotate(-90) scale(0.73,1)" font-size="16" fill="#000" stroke="#000" stroke-width="0.2">C35</text>
<text transform="translate(558.52,747.3) rotate(-90) scale(0.73,1)" font-size="16" fill="#000" stroke="#000" stroke-width="0.2">C36</text>
<text transform="translate(573.69,747.3) rotate(-90) scale(0.73,1)" font-size="16" fill="#000" stroke="#000" stroke-width="0.2">C37</text>
<text transform="translate(588.87,747.3) rotate(-90) scale(0.73,1)" font-size="16" fill="#000" stroke="#000" stroke-width="0.2">C38</text>
<text transform="translate(604.05,747.3) rotate(-90) scale(0.73,1)" font-size="16" fill="#000" stroke="#000" stroke-width="0.2">C39</text>
<text transform="translate(619.22,747.3) rotate(-90) scale(0.73,1)" font-size="16" fill="#000" stroke="#000" stroke-width="0.2">C40</text>
<text transform="translate(634.4,747.3) rotate(-90) scale(0.73,1)" font-size="16" fill="#000" stroke="#000" stroke-width="0.2">C41</text>
<text transform="translate(649.57,747.3) rotate(-90) scale(0.73,1)" font-size="16" fill="#000" stroke="#000" stroke-width="0.2">C42</text>
<text transform="translate(664.75,747.3) rotate(-90) scale(0.73,1)" font-size="16" fill="#000" stroke="#000" stroke-width="0.2">C43</text>
<text transform="translate(679.93,747.3) rotate(-90) scale(0.73,1)" font-size="16" fill="#000" stroke="#000" stroke-width="0.2">C44</text>
</svg></body></html>
